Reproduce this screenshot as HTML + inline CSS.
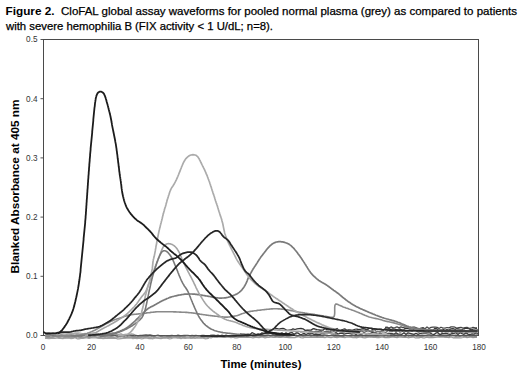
<!DOCTYPE html>
<html><head><meta charset="utf-8">
<style>
html,body{margin:0;padding:0;background:#fff;width:520px;height:375px;overflow:hidden}
svg{display:block}
text{font-family:"Liberation Sans",sans-serif}
</style></head><body>
<svg width="520" height="375" viewBox="0 0 520 375">
<text x="5.5" y="14.8" font-size="11" fill="#000" font-weight="bold" textLength="49" lengthAdjust="spacingAndGlyphs">Figure 2.</text>
<text x="61" y="14.8" font-size="11" fill="#000" stroke="#000" stroke-width="0.25" textLength="456" lengthAdjust="spacingAndGlyphs">CloFAL global assay waveforms for pooled normal plasma (grey) as compared to patients</text>
<text x="6" y="29.8" font-size="11" fill="#000" stroke="#000" stroke-width="0.25" textLength="267" lengthAdjust="spacingAndGlyphs">with severe hemophilia B (FIX activity &lt; 1 U/dL; n=8).</text>
<line x1="40.5" y1="335.50" x2="43.5" y2="335.50" stroke="#555" stroke-width="1"/>
<text x="37.5" y="338.40" font-size="8.2" fill="#333" text-anchor="end">0.0</text>
<line x1="40.5" y1="276.30" x2="43.5" y2="276.30" stroke="#555" stroke-width="1"/>
<text x="37.5" y="279.20" font-size="8.2" fill="#333" text-anchor="end">0.1</text>
<line x1="40.5" y1="217.10" x2="43.5" y2="217.10" stroke="#555" stroke-width="1"/>
<text x="37.5" y="220.00" font-size="8.2" fill="#333" text-anchor="end">0.2</text>
<line x1="40.5" y1="157.90" x2="43.5" y2="157.90" stroke="#555" stroke-width="1"/>
<text x="37.5" y="160.80" font-size="8.2" fill="#333" text-anchor="end">0.3</text>
<line x1="40.5" y1="98.70" x2="43.5" y2="98.70" stroke="#555" stroke-width="1"/>
<text x="37.5" y="101.60" font-size="8.2" fill="#333" text-anchor="end">0.4</text>
<line x1="40.5" y1="39.50" x2="43.5" y2="39.50" stroke="#555" stroke-width="1"/>
<text x="37.5" y="42.40" font-size="8.2" fill="#333" text-anchor="end">0.5</text>
<text x="43.00" y="349.6" font-size="8.2" fill="#333" text-anchor="middle">0</text>
<text x="91.44" y="349.6" font-size="8.2" fill="#333" text-anchor="middle">20</text>
<text x="139.89" y="349.6" font-size="8.2" fill="#333" text-anchor="middle">40</text>
<text x="188.33" y="349.6" font-size="8.2" fill="#333" text-anchor="middle">60</text>
<text x="236.78" y="349.6" font-size="8.2" fill="#333" text-anchor="middle">80</text>
<text x="285.22" y="349.6" font-size="8.2" fill="#333" text-anchor="middle">100</text>
<text x="333.67" y="349.6" font-size="8.2" fill="#333" text-anchor="middle">120</text>
<text x="382.11" y="349.6" font-size="8.2" fill="#333" text-anchor="middle">140</text>
<text x="430.56" y="349.6" font-size="8.2" fill="#333" text-anchor="middle">160</text>
<text x="479.00" y="349.6" font-size="8.2" fill="#333" text-anchor="middle">180</text>
<text x="261" y="367.7" font-size="11" fill="#000" font-weight="bold" text-anchor="middle" textLength="81" lengthAdjust="spacingAndGlyphs">Time (minutes)</text>
<text transform="translate(19.2,186.6) rotate(-90)" x="0" y="0" font-size="11.6" fill="#000" font-weight="bold" text-anchor="middle" textLength="174" lengthAdjust="spacingAndGlyphs">Blanked Absorbance at 405 nm</text>
<rect x="43.5" y="39.5" width="435" height="296" fill="none" stroke="#4a4a4a" stroke-width="1"/>
<path d="M45.0,338.3 L47.0,338.4 L49.0,338.7 L51.0,338.3 L53.0,338.3 L55.0,338.4 L57.0,338.0 L59.0,338.3 L61.0,338.4 L63.0,338.6 L65.0,337.9 L67.0,338.1 L69.0,337.9 L71.0,338.6 L73.0,338.5 L75.0,337.8 L77.0,338.8 L79.0,338.8 L81.0,338.5 L83.0,338.4 L85.0,338.0 L87.0,337.8 L89.0,338.3 L91.0,337.9 L93.0,338.0 L95.0,338.0 L97.0,337.8 L99.0,338.3 L101.0,338.2 L103.0,338.6 L105.0,338.3 L107.0,338.4 L109.0,338.3 L111.0,338.5 L113.0,338.3 L115.0,338.1 L117.0,338.8 L119.0,338.8 L121.0,338.6 L123.0,338.5 L125.0,338.1 L127.0,338.0 L129.0,338.1 L131.0,337.9 L133.0,338.6 L135.0,338.2 L137.0,338.6 L139.0,338.2 L141.0,338.8 L143.0,338.6 L145.0,337.8 L147.0,338.0 L149.0,338.7 L151.0,338.3 L153.0,338.8 L155.0,338.2 L157.0,337.9 L159.0,338.4 L161.0,338.6 L163.0,338.1 L165.0,337.9 L167.0,338.1 L169.0,338.8 L171.0,338.6 L173.0,337.9 L175.0,338.0 L177.0,337.9 L179.0,337.9 L181.0,338.6 L183.0,338.0 L185.0,338.4 L187.0,338.2 L189.0,338.0 L191.0,338.5 L193.0,337.9 L195.0,338.4 L197.0,337.9 L199.0,338.2 L201.0,338.0 L203.0,338.1 L205.0,338.8 L207.0,338.6 L209.0,338.1" fill="none" stroke="#a0a0a0" stroke-width="1.2" stroke-linejoin="round"/>
<path d="M45.0,337.1 L47.0,337.4 L49.0,337.3 L51.0,337.5 L53.0,337.5 L55.0,337.0 L57.0,336.9 L59.0,337.7 L61.0,337.2 L63.0,337.1 L65.0,337.9 L67.0,337.4 L69.0,337.7 L71.0,337.4 L73.0,337.5 L75.0,337.1 L77.0,337.5 L79.0,337.8 L81.0,337.4 L83.0,337.6 L85.0,337.6 L87.0,337.0 L89.0,337.7 L91.0,337.5 L93.0,337.2 L95.0,336.9 L97.0,337.8 L99.0,337.4 L101.0,337.6 L103.0,337.8 L105.0,337.6 L107.0,337.8 L109.0,337.3 L111.0,337.7 L113.0,337.3 L115.0,337.8 L117.0,337.8 L119.0,337.0 L121.0,337.0 L123.0,337.1 L125.0,337.9 L127.0,337.3 L129.0,337.5 L131.0,337.2 L133.0,337.4 L135.0,337.3 L137.0,337.3 L139.0,337.5 L141.0,337.5 L143.0,337.8 L145.0,337.6 L147.0,337.8 L149.0,337.8 L151.0,337.9 L153.0,337.6 L155.0,337.1 L157.0,337.8 L159.0,337.9 L161.0,337.8 L163.0,337.5 L165.0,337.6 L167.0,337.1 L169.0,337.7 L171.0,337.5 L173.0,337.2 L175.0,337.0 L177.0,337.8 L179.0,337.9 L181.0,337.0 L183.0,337.7 L185.0,337.3 L187.0,337.1 L189.0,337.2 L191.0,337.7 L193.0,337.8 L195.0,336.9 L197.0,337.5 L199.0,336.9 L201.0,337.6 L203.0,337.2 L205.0,337.8 L207.0,337.9 L209.0,337.4 L211.0,337.9 L213.0,337.2 L215.0,337.0 L217.0,337.5 L219.0,336.9 L221.0,337.1 L223.0,337.3 L225.0,337.5 L227.0,337.1 L229.0,336.9 L231.0,337.8 L233.0,337.2 L235.0,337.9 L237.0,337.8 L239.0,337.3 L241.0,337.4 L243.0,337.4 L245.0,337.5 L247.0,337.5 L249.0,337.5 L251.0,337.5 L253.0,337.8 L255.0,337.4 L257.0,337.3 L259.0,337.6 L261.0,337.1 L263.0,337.2 L265.0,337.9 L267.0,337.4 L269.0,337.4 L271.0,336.9 L273.0,337.3 L275.0,337.5 L277.0,336.9 L279.0,337.5 L281.0,337.5 L283.0,337.0 L285.0,337.5 L287.0,337.4 L289.0,337.6 L291.0,337.3 L293.0,337.6 L295.0,337.6 L297.0,336.9 L299.0,337.0 L301.0,337.6 L303.0,337.9 L305.0,337.2 L307.0,337.4 L309.0,337.5 L311.0,337.2 L313.0,337.3 L315.0,337.2 L317.0,337.3 L319.0,337.5 L321.0,337.2 L323.0,337.3 L325.0,337.7 L327.0,336.9 L329.0,337.5 L331.0,337.6 L333.0,337.2 L335.0,337.1 L337.0,337.7 L339.0,337.1 L341.0,337.1 L343.0,337.3 L345.0,337.6 L347.0,337.0 L349.0,337.2 L351.0,337.2 L353.0,337.7 L355.0,337.3 L357.0,337.8 L359.0,337.1 L361.0,337.2 L363.0,337.6 L365.0,337.8 L367.0,337.4 L369.0,337.1 L371.0,337.0 L373.0,337.4 L375.0,337.1 L377.0,337.7 L379.0,337.7 L381.0,337.1 L383.0,337.2 L385.0,337.7 L387.0,337.5 L389.0,337.7 L391.0,337.2 L393.0,337.0 L395.0,337.2 L397.0,337.7 L399.0,337.2 L401.0,337.2 L403.0,337.3 L405.0,337.3 L407.0,337.3 L409.0,337.8 L411.0,337.1 L413.0,336.9 L415.0,337.8 L417.0,337.8 L419.0,337.9 L421.0,337.3 L423.0,337.9 L425.0,337.8 L427.0,337.1 L429.0,337.6 L431.0,337.7 L433.0,337.6 L435.0,337.4 L437.0,337.2 L439.0,337.2 L441.0,337.1 L443.0,337.0 L445.0,337.5 L447.0,337.2 L449.0,337.7 L451.0,336.9 L453.0,337.8 L455.0,337.6 L457.0,337.8 L459.0,337.8 L461.0,337.8 L463.0,337.5 L465.0,336.9 L467.0,337.6 L469.0,337.1 L471.0,337.2 L473.0,337.6 L475.0,337.4 L477.0,337.3" fill="none" stroke="#9a9a9a" stroke-width="1.2" stroke-linejoin="round"/>
<path d="M45.0,335.9 L47.0,336.7 L49.0,336.6 L51.0,336.0 L53.0,336.3 L55.0,336.2 L57.0,336.5 L59.0,336.6 L61.0,335.8 L63.0,335.7 L65.0,336.7 L67.0,336.2 L69.0,336.6 L71.0,335.7 L73.0,336.2 L75.0,336.6 L77.0,336.0 L79.0,336.8 L81.0,336.8 L83.0,335.7 L85.0,335.7 L87.0,336.3 L89.0,336.8 L91.0,336.2 L93.0,336.0 L95.0,336.2 L97.0,335.7 L99.0,336.0 L101.0,336.2 L103.0,336.3 L105.0,336.0 L107.0,336.0 L109.0,336.0 L111.0,336.3 L113.0,336.0 L115.0,335.7 L117.0,336.7 L119.0,336.4 L121.0,336.5 L123.0,335.9 L125.0,336.9 L127.0,336.7 L129.0,335.8 L131.0,336.1 L133.0,336.6 L135.0,336.6 L137.0,336.8 L139.0,336.2 L141.0,336.7 L143.0,336.5 L145.0,336.1 L147.0,336.4 L149.0,336.8 L151.0,336.7 L153.0,336.3 L155.0,336.4 L157.0,335.7 L159.0,336.0 L161.0,336.7 L163.0,336.2 L165.0,335.9 L167.0,336.4 L169.0,336.5 L171.0,336.5 L173.0,336.1 L175.0,336.2 L177.0,336.3 L179.0,336.6 L181.0,336.3 L183.0,336.2 L185.0,336.3 L187.0,335.7 L189.0,335.8 L191.0,336.5 L193.0,336.9 L195.0,336.4 L197.0,336.2 L199.0,335.9 L201.0,336.3 L203.0,336.9 L205.0,336.6 L207.0,336.3 L209.0,336.7 L211.0,336.0 L213.0,336.3 L215.0,336.8 L217.0,336.4 L219.0,336.3 L221.0,336.0 L223.0,336.4 L225.0,336.8 L227.0,335.7 L229.0,336.6 L231.0,336.7 L233.0,336.8 L235.0,336.6 L237.0,336.7 L239.0,336.3 L241.0,336.4 L243.0,336.2 L245.0,335.8 L247.0,336.7 L249.0,336.4 L251.0,335.9 L253.0,336.3 L255.0,336.3 L257.0,336.1 L259.0,336.1 L261.0,336.3 L263.0,336.4 L265.0,336.4 L267.0,336.2 L269.0,335.7 L271.0,336.0 L273.0,335.9 L275.0,336.4 L277.0,336.7 L279.0,336.7 L281.0,336.7 L283.0,336.7 L285.0,336.0 L287.0,336.7 L289.0,336.5 L291.0,335.8 L293.0,335.7 L295.0,335.7 L297.0,336.6 L299.0,336.0 L301.0,335.8 L303.0,336.4 L305.0,336.1 L307.0,335.8 L309.0,335.9 L311.0,336.3 L313.0,335.9 L315.0,336.0 L317.0,336.6 L319.0,336.2 L321.0,336.1 L323.0,336.3 L325.0,335.7 L327.0,336.2 L329.0,336.2 L331.0,335.9 L333.0,335.8 L335.0,336.8 L337.0,336.3 L339.0,336.0 L341.0,336.4 L343.0,336.7 L345.0,335.7 L347.0,335.7 L349.0,335.9 L351.0,336.6 L353.0,335.9 L355.0,336.5 L357.0,336.5 L359.0,336.4 L361.0,336.0 L363.0,336.9 L365.0,336.7 L367.0,336.3 L369.0,336.0 L371.0,336.5 L373.0,336.2 L375.0,336.4 L377.0,336.1 L379.0,336.5 L381.0,335.8 L383.0,336.1 L385.0,336.9 L387.0,336.8 L389.0,336.1 L391.0,336.7 L393.0,336.1 L395.0,336.8 L397.0,336.6 L399.0,336.2 L401.0,336.0 L403.0,335.7 L405.0,336.8 L407.0,335.7 L409.0,336.7 L411.0,336.9 L413.0,336.4 L415.0,335.9 L417.0,336.7 L419.0,336.9 L421.0,336.5 L423.0,336.3 L425.0,336.2 L427.0,336.1 L429.0,335.9 L431.0,336.5 L433.0,336.2 L435.0,335.9 L437.0,335.8 L439.0,336.5 L441.0,336.1 L443.0,336.3 L445.0,336.1 L447.0,336.7 L449.0,336.8 L451.0,335.7 L453.0,335.9 L455.0,336.1 L457.0,336.9 L459.0,336.6 L461.0,336.1 L463.0,336.0 L465.0,336.5 L467.0,336.7 L469.0,336.8 L471.0,336.1 L473.0,336.8 L475.0,336.5 L477.0,336.3" fill="none" stroke="#888" stroke-width="1.3" stroke-linejoin="round"/>
<path d="M88.0,335.8 L90.0,335.7 L92.0,334.9 L94.0,334.9 L96.0,335.6 L98.0,335.5 L100.0,335.5 L102.0,335.1 L104.0,335.4 L106.0,335.4 L108.0,335.4 L110.0,335.0 L112.0,335.2 L114.0,335.2 L116.0,335.5 L118.0,335.8 L120.0,335.7 L122.0,335.3 L124.0,335.2 L126.0,335.1 L128.0,334.8 L130.0,334.8 L132.0,335.3 L134.0,335.1 L136.0,335.2 L138.0,335.7 L140.0,335.3 L142.0,335.4 L144.0,335.0 L146.0,334.8 L148.0,335.1 L150.0,334.9 L152.0,335.3 L154.0,335.8 L156.0,335.5 L158.0,335.0 L160.0,335.7 L162.0,335.6 L164.0,335.5 L166.0,335.7 L168.0,335.6 L170.0,335.6 L172.0,335.2 L174.0,335.8 L176.0,335.8 L178.0,335.0 L180.0,335.6 L182.0,335.5 L184.0,335.3 L186.0,335.3 L188.0,335.3 L190.0,335.7 L192.0,335.3 L194.0,335.6 L196.0,335.2 L198.0,335.7 L200.0,335.7 L202.0,335.3 L204.0,335.4 L206.0,335.7 L208.0,335.5 L210.0,335.3 L212.0,335.0 L214.0,335.1 L216.0,335.5 L218.0,335.0 L220.0,335.7 L222.0,335.1 L224.0,335.7 L226.0,335.1 L228.0,335.8 L230.0,335.5 L232.0,335.3 L234.0,335.3 L236.0,335.5 L238.0,335.4 L240.0,335.1 L242.0,335.0 L244.0,335.3 L246.0,335.7 L248.0,335.4 L250.0,334.9 L252.0,335.6 L254.0,335.5 L256.0,335.7 L258.0,335.0 L260.0,335.5 L262.0,334.9 L264.0,335.5 L266.0,335.1 L268.0,335.0 L270.0,335.7 L272.0,334.9 L274.0,335.3 L276.0,335.7 L278.0,335.0 L280.0,335.0 L282.0,335.7 L284.0,335.2 L286.0,335.5 L288.0,334.8 L290.0,335.2 L292.0,335.0 L294.0,335.5 L296.0,334.9 L298.0,335.8 L300.0,334.8 L302.0,335.5 L304.0,334.8 L306.0,335.1 L308.0,335.6 L310.0,335.0 L312.0,335.0 L314.0,335.5 L316.0,335.2 L318.0,334.8 L320.0,335.8 L322.0,335.0 L324.0,334.8 L326.0,335.1 L328.0,335.4 L330.0,335.5 L332.0,334.9 L334.0,335.1 L336.0,334.8 L338.0,335.2 L340.0,335.6 L342.0,335.5 L344.0,335.7 L346.0,335.6 L348.0,335.7 L350.0,335.5 L352.0,335.3 L354.0,335.0 L356.0,335.5 L358.0,335.1 L360.0,334.9 L362.0,335.2 L364.0,335.7 L366.0,334.9 L368.0,335.4 L370.0,335.2 L372.0,335.3 L374.0,334.9 L376.0,335.8 L378.0,335.1 L380.0,335.4 L382.0,335.2 L384.0,334.8 L386.0,335.4 L388.0,334.9 L390.0,334.9 L392.0,334.8 L394.0,335.0 L396.0,334.9 L398.0,335.4 L400.0,335.3 L402.0,335.8 L404.0,335.7 L406.0,335.8 L408.0,335.0 L410.0,335.2 L412.0,335.1 L414.0,335.4 L416.0,335.4 L418.0,335.6 L420.0,335.5 L422.0,335.1 L424.0,335.2 L426.0,335.3 L428.0,334.8 L430.0,334.8 L432.0,335.2 L434.0,334.9 L436.0,335.5 L438.0,335.0 L440.0,334.9 L442.0,335.0 L444.0,335.0 L446.0,335.0 L448.0,335.3 L450.0,335.3 L452.0,335.1 L454.0,335.4 L456.0,335.0 L458.0,335.7 L460.0,335.8 L462.0,335.5 L464.0,335.2 L466.0,335.3 L468.0,335.4 L470.0,334.9 L472.0,335.2 L474.0,335.3 L476.0,335.0 L478.0,334.9" fill="none" stroke="#555" stroke-width="1.1" stroke-linejoin="round"/>
<path d="M45.0,335.4 L47.0,335.6 L49.0,335.6 L51.0,335.0 L53.0,334.8 L55.0,335.2 L57.0,335.1 L59.0,335.8 L61.0,335.6 L63.0,335.5 L65.0,335.5 L67.0,335.6 L69.0,335.0 L71.0,335.3 L73.0,335.0 L75.0,335.9 L77.0,334.9 L79.0,335.8 L81.0,334.9 L83.0,335.6 L85.0,335.2 L87.0,335.3 L89.0,335.8 L91.0,334.8" fill="none" stroke="#8c8c8c" stroke-width="1.2" stroke-linejoin="round"/>
<path d="M45.0,333.9 L47.0,334.9 L49.0,333.8 L51.0,334.6 L53.0,333.7 L55.0,333.9 L57.0,335.0 L59.0,333.9 L61.0,334.5 L63.0,334.2 L65.0,334.2 L67.0,334.3 L69.0,333.9 L71.0,334.8 L73.0,333.7 L75.0,333.9 L77.0,333.6 L79.0,334.0 L81.0,334.2 L83.0,334.9 L85.0,334.1 L87.0,333.8 L89.0,334.0 L91.0,335.0 L93.0,333.7 L95.0,334.5 L97.0,334.1 L99.0,334.5 L101.0,334.1 L103.0,334.6 L105.0,334.3 L107.0,334.5 L109.0,334.9 L111.0,334.4 L113.0,333.8 L115.0,333.7 L117.0,334.9 L119.0,334.3 L121.0,333.9 L123.0,334.9 L125.0,334.4 L127.0,334.6 L129.0,334.8 L131.0,334.0 L133.0,334.1 L135.0,334.8" fill="none" stroke="#999" stroke-width="1.3" stroke-linejoin="round"/>
<path d="M45.0,333.2 L47.0,333.0 L49.0,332.8 L51.0,333.6 L53.0,332.6 L55.0,333.2 L57.0,333.7 L59.0,332.7 L61.0,333.3 L63.0,333.3 L65.0,332.6 L67.0,333.1 L69.0,333.4 L71.0,333.1 L73.0,333.5 L75.0,332.8 L77.0,332.9 L79.0,332.7 L81.0,333.2 L83.0,333.7 L85.0,333.3 L87.0,333.5 L89.0,333.1 L91.0,333.5 L93.0,332.7 L95.0,332.9 L97.0,333.4 L99.0,333.5" fill="none" stroke="#aaa" stroke-width="1.1" stroke-linejoin="round"/>
<path d="M240.0,333.8 L242.0,334.1 L244.0,334.2 L246.0,334.5 L248.0,334.1 L250.0,334.4 L252.0,332.7 L254.0,333.5 L256.0,334.5 L258.0,333.9 L260.0,334.4 L262.0,332.8 L264.0,333.5 L266.0,333.1 L268.0,333.7 L270.0,333.7 L272.0,332.6 L274.0,333.0 L276.0,333.2 L278.0,334.4 L280.0,334.1 L282.0,332.9 L284.0,334.2 L286.0,332.9 L288.0,333.8 L290.0,332.9 L292.0,332.6 L294.0,334.3 L296.0,333.0 L298.0,333.0 L300.0,334.6 L302.0,334.3 L304.0,333.2 L306.0,334.5 L308.0,333.7 L310.0,334.0 L312.0,333.0 L314.0,334.5 L316.0,334.0 L318.0,334.5 L320.0,334.4 L322.0,333.2 L324.0,333.3 L326.0,332.9 L328.0,332.9 L330.0,332.7 L332.0,333.2 L334.0,333.8 L336.0,332.6 L338.0,334.0 L340.0,333.3 L342.0,333.2 L344.0,334.2 L346.0,333.6 L348.0,333.2 L350.0,333.6 L352.0,334.0 L354.0,332.7 L356.0,334.6 L358.0,332.6 L360.0,334.1 L362.0,334.3 L364.0,332.6 L366.0,334.2 L368.0,333.3 L370.0,333.8 L372.0,332.6 L374.0,332.7 L376.0,333.0 L378.0,334.5 L380.0,333.0 L382.0,334.1 L384.0,334.5 L386.0,334.5 L388.0,333.3 L390.0,333.3 L392.0,333.6 L394.0,334.2 L396.0,332.8 L398.0,334.1 L400.0,334.2 L402.0,334.3 L404.0,332.7 L406.0,334.5 L408.0,332.8 L410.0,333.3 L412.0,333.8 L414.0,334.4 L416.0,333.3 L418.0,334.4 L420.0,333.7 L422.0,333.2 L424.0,333.2 L426.0,333.0 L428.0,332.8 L430.0,332.9 L432.0,334.0 L434.0,334.6 L436.0,332.9 L438.0,332.7 L440.0,334.6 L442.0,333.7 L444.0,333.4 L446.0,333.1 L448.0,333.8 L450.0,334.3 L452.0,333.5 L454.0,333.4 L456.0,332.7 L458.0,334.4 L460.0,332.7 L462.0,333.6 L464.0,334.3 L466.0,332.9 L468.0,334.1 L470.0,334.5 L472.0,333.9 L474.0,334.2 L476.0,332.8 L478.0,333.5" fill="none" stroke="#3a3a3a" stroke-width="1.3" stroke-linejoin="round"/>
<path d="M300.0,332.0 L302.0,332.0 L304.0,331.4 L306.0,330.9 L308.0,330.4 L310.0,331.7 L312.0,331.3 L314.0,331.9 L316.0,331.1 L318.0,331.9 L320.0,330.9 L322.0,332.0 L324.0,331.9 L326.0,331.2 L328.0,331.5 L330.0,331.8 L332.0,330.8 L334.0,331.5 L336.0,332.0 L338.0,330.9 L340.0,332.0 L342.0,331.8 L344.0,332.1 L346.0,331.1 L348.0,330.6 L350.0,332.0 L352.0,332.0 L354.0,331.3 L356.0,330.6 L358.0,330.8 L360.0,331.7 L362.0,331.0 L364.0,332.3 L366.0,331.6 L368.0,330.8 L370.0,331.7 L372.0,331.1 L374.0,332.3 L376.0,332.2 L378.0,331.4 L380.0,331.7 L382.0,331.8 L384.0,332.0 L386.0,332.4 L388.0,330.5 L390.0,331.1 L392.0,331.6 L394.0,331.0 L396.0,331.6 L398.0,330.6 L400.0,332.2 L402.0,331.5 L404.0,330.6 L406.0,331.7 L408.0,331.0 L410.0,330.8 L412.0,331.4 L414.0,330.7 L416.0,330.8 L418.0,332.1 L420.0,331.8 L422.0,330.4 L424.0,332.0 L426.0,330.4 L428.0,331.1 L430.0,332.2 L432.0,331.6 L434.0,331.0 L436.0,331.2 L438.0,331.2 L440.0,330.7 L442.0,332.4 L444.0,330.5 L446.0,331.2 L448.0,331.9 L450.0,331.2 L452.0,332.4 L454.0,330.9 L456.0,332.4 L458.0,332.2 L460.0,331.7 L462.0,332.2 L464.0,331.3 L466.0,332.1 L468.0,332.0 L470.0,331.4 L472.0,331.3 L474.0,331.8 L476.0,331.2 L478.0,330.6" fill="none" stroke="#666" stroke-width="1.2" stroke-linejoin="round"/>
<path d="M275.0,328.8 L277.0,328.5 L279.0,329.2 L281.0,328.6 L283.0,328.4 L285.0,329.2 L287.0,330.3 L289.0,330.1 L291.0,330.0 L293.0,328.8 L295.0,329.5 L297.0,328.9 L299.0,328.7 L301.0,328.5 L303.0,328.8 L305.0,330.3 L307.0,330.1 L309.0,330.1 L311.0,330.1 L313.0,328.7 L315.0,329.0 L317.0,329.7 L319.0,329.9 L321.0,330.2 L323.0,330.2 L325.0,328.5 L327.0,329.6 L329.0,329.8 L331.0,329.4 L333.0,328.7 L335.0,329.3 L337.0,328.5 L339.0,330.4 L341.0,330.2 L343.0,329.5 L345.0,329.0 L347.0,330.3 L349.0,329.6 L351.0,330.2 L353.0,330.2 L355.0,329.4 L357.0,329.2 L359.0,329.6 L361.0,329.2 L363.0,328.7 L365.0,329.0 L367.0,330.1 L369.0,328.4 L371.0,328.4 L373.0,329.7 L375.0,328.9 L377.0,329.5 L379.0,329.3 L381.0,329.1 L383.0,330.5 L385.0,328.7 L387.0,329.2 L389.0,328.7 L391.0,329.7 L393.0,328.9 L395.0,329.1 L397.0,329.9 L399.0,329.0 L401.0,329.5 L403.0,330.3 L405.0,328.5 L407.0,328.4 L409.0,328.8 L411.0,330.0 L413.0,329.7 L415.0,328.8 L417.0,329.0 L419.0,328.7 L421.0,329.3 L423.0,328.4 L425.0,329.8 L427.0,330.3 L429.0,330.4 L431.0,329.9 L433.0,330.4 L435.0,328.3 L437.0,328.9 L439.0,330.4 L441.0,330.0 L443.0,329.2 L445.0,330.4 L447.0,329.7 L449.0,330.1 L451.0,328.9 L453.0,328.7 L455.0,329.3 L457.0,328.6 L459.0,329.1 L461.0,330.4 L463.0,329.0 L465.0,328.3 L467.0,328.4 L469.0,328.7 L471.0,330.0 L473.0,329.1 L475.0,328.9 L477.0,328.5" fill="none" stroke="#333" stroke-width="1.3" stroke-linejoin="round"/>
<path d="M385.0,327.4 L387.0,327.1 L389.0,328.1 L391.0,326.9 L393.0,327.9 L395.0,327.5 L397.0,326.9 L399.0,327.8 L401.0,326.9 L403.0,327.7 L405.0,326.9 L407.0,327.0 L409.0,327.6 L411.0,328.5 L413.0,327.0 L415.0,327.2 L417.0,328.1 L419.0,328.7 L421.0,328.0 L423.0,327.6 L425.0,328.8 L427.0,326.9 L429.0,328.5 L431.0,327.4 L433.0,327.1 L435.0,327.0 L437.0,327.4 L439.0,328.4 L441.0,327.2 L443.0,328.0 L445.0,328.1 L447.0,327.5 L449.0,327.9 L451.0,326.9 L453.0,326.9 L455.0,327.2 L457.0,328.2 L459.0,327.7 L461.0,327.4 L463.0,328.0 L465.0,327.7 L467.0,327.4 L469.0,328.4 L471.0,328.2 L473.0,327.3 L475.0,327.9 L477.0,327.9" fill="none" stroke="#444" stroke-width="1.2" stroke-linejoin="round"/>
<path d="M330.0,330.7 L332.0,330.3 L334.0,330.7 L336.0,329.8 L338.0,331.3 L340.0,331.3 L342.0,330.9 L344.0,329.7 L346.0,330.5 L348.0,330.1 L350.0,329.9 L352.0,331.6 L354.0,331.7 L356.0,329.4 L358.0,331.4 L360.0,330.7 L362.0,330.2 L364.0,330.0 L366.0,330.9 L368.0,330.4 L370.0,330.9 L372.0,330.9 L374.0,329.6 L376.0,331.1 L378.0,331.7 L380.0,331.6 L382.0,330.8 L384.0,329.4 L386.0,329.3 L388.0,329.6 L390.0,331.6 L392.0,330.0 L394.0,330.2 L396.0,331.5 L398.0,330.1 L400.0,330.6 L402.0,330.3 L404.0,329.5 L406.0,330.7 L408.0,331.3 L410.0,329.7 L412.0,329.8 L414.0,330.3 L416.0,329.4 L418.0,330.5 L420.0,331.3 L422.0,330.9 L424.0,330.6 L426.0,331.4 L428.0,329.7 L430.0,330.7 L432.0,330.2 L434.0,330.7 L436.0,329.6 L438.0,331.2 L440.0,329.5 L442.0,329.7 L444.0,331.2 L446.0,331.6 L448.0,330.3 L450.0,330.3 L452.0,329.9 L454.0,330.0 L456.0,330.8 L458.0,329.7 L460.0,329.6 L462.0,330.4 L464.0,329.7 L466.0,330.9 L468.0,331.3 L470.0,331.2 L472.0,330.5 L474.0,330.1 L476.0,330.3 L478.0,329.3" fill="none" stroke="#777" stroke-width="1.2" stroke-linejoin="round"/>
<path d="M61.0,336.0 L61.6,336.0 L62.3,335.9 L63.1,335.9 L64.1,335.9 L65.0,335.9 L66.0,335.9 L67.0,335.8 L68.0,335.8 L69.0,335.8 L70.0,335.7 L71.0,335.7 L72.0,335.6 L73.0,335.6 L74.0,335.5 L75.0,335.5 L76.0,335.4 L77.0,335.3 L78.0,335.2 L79.0,335.0 L80.0,334.9 L81.0,334.7 L82.0,334.6 L83.0,334.4 L84.0,334.2 L84.9,333.9 L85.9,333.7 L86.9,333.4 L87.8,333.1 L88.8,332.8 L89.7,332.4 L90.6,332.0 L91.5,331.7 L92.5,331.3 L93.4,330.8 L94.3,330.4 L95.2,330.0 L96.1,329.5 L97.0,329.1 L97.8,328.6 L98.7,328.1 L99.6,327.6 L100.5,327.1 L101.3,326.6 L102.2,326.1 L103.1,325.6 L103.9,325.1 L104.8,324.6 L105.7,324.1 L106.6,323.6 L107.4,323.2 L108.3,322.7 L109.2,322.2 L110.1,321.8 L111.0,321.3 L111.9,320.9 L112.8,320.5 L113.8,320.1 L114.7,319.7 L115.6,319.4 L116.6,319.1 L117.5,318.8 L118.5,318.5 L119.4,318.2 L120.4,317.9 L121.4,317.6 L122.3,317.3 L123.3,317.0 L124.2,316.6 L125.1,316.3 L126.1,316.0 L127.0,315.6 L128.0,315.4 L128.9,315.1 L129.9,314.9 L130.9,314.7 L131.9,314.6 L132.9,314.5 L133.9,314.4 L134.8,314.3 L135.8,314.2 L136.8,314.1 L137.8,314.0 L138.8,313.9 L139.8,313.8 L140.8,313.7 L141.8,313.6 L142.8,313.4 L143.8,313.3 L144.8,313.2 L145.8,313.1 L146.8,312.9 L147.8,312.8 L148.8,312.7 L149.8,312.6 L150.8,312.4 L151.8,312.3 L152.8,312.2 L153.8,312.1 L154.8,312.0 L155.8,311.9 L156.8,311.8 L157.8,311.8 L158.8,311.7 L159.8,311.7 L160.8,311.7 L161.8,311.7 L162.8,311.7 L163.8,311.7 L164.8,311.7 L165.8,311.7 L166.8,311.7 L167.8,311.7 L168.8,311.7 L169.8,311.8 L170.8,311.8 L171.8,311.8 L172.8,311.8 L173.8,311.9 L174.8,311.9 L175.8,311.9 L176.8,312.0 L177.8,312.0 L178.8,312.0 L179.8,312.1 L180.8,312.1 L181.8,312.2 L182.8,312.2 L183.8,312.3 L184.8,312.3 L185.8,312.4 L186.8,312.4 L187.8,312.5 L188.8,312.6 L189.8,312.7 L190.8,312.8 L191.8,312.9 L192.8,313.0 L193.8,313.1 L194.8,313.3 L195.8,313.4 L196.8,313.6 L197.8,313.7 L198.8,313.9 L199.8,314.1 L200.8,314.2 L201.7,314.4 L202.7,314.5 L203.7,314.7 L204.7,314.8 L205.7,315.0 L206.7,315.1 L207.7,315.2 L208.7,315.4 L209.7,315.5 L210.7,315.6 L211.7,315.8 L212.7,315.9 L213.7,316.0 L214.7,316.1 L215.7,316.2 L216.7,316.3 L217.7,316.4 L218.7,316.6 L219.7,316.7 L220.6,316.7 L221.6,316.8 L222.6,316.9 L223.6,317.0 L224.6,317.1 L225.6,317.1 L226.6,317.1 L227.6,317.1 L228.6,317.0 L229.6,316.9 L230.5,316.7 L231.5,316.6 L232.4,316.4 L233.4,316.3 L234.3,316.1 L235.3,316.0 L236.2,315.8 L237.2,315.6 L238.1,315.3 L239.0,314.9 L239.9,314.6 L240.8,314.2 L241.7,313.8 L242.7,313.5 L243.6,313.2 L244.6,312.9 L245.5,312.6 L246.5,312.3 L247.5,312.0 L248.4,311.8 L249.4,311.6 L250.4,311.4 L251.4,311.3 L252.4,311.1 L253.4,311.0 L254.4,310.8 L255.4,310.7 L256.4,310.6 L257.4,310.4 L258.4,310.3 L259.3,310.2 L260.3,310.1 L261.3,310.0 L262.3,309.8 L263.3,309.7 L264.3,309.6 L265.3,309.5 L266.3,309.4 L267.3,309.3 L268.3,309.2 L269.3,309.1 L270.3,309.0 L271.3,308.9 L272.3,308.9 L273.3,308.8 L274.3,308.8 L275.3,308.8 L276.3,308.8 L277.3,308.8 L278.3,308.9 L279.3,308.9 L280.3,309.0 L281.3,309.1 L282.3,309.1 L283.3,309.3 L284.3,309.4 L285.3,309.5 L286.3,309.7 L287.3,309.8 L288.3,310.0 L289.3,310.2 L290.2,310.4 L291.2,310.6 L292.2,310.8 L293.2,311.0 L294.2,311.2 L295.1,311.4 L296.1,311.6 L297.1,311.8 L298.1,312.0 L299.1,312.2 L300.1,312.3 L301.1,312.5 L302.1,312.6 L303.1,312.8 L304.0,312.9 L305.0,313.1 L306.0,313.2 L307.0,313.4 L308.0,313.5 L309.0,313.7 L310.0,313.8 L311.0,314.0 L312.0,314.1 L313.0,314.3 L314.0,314.4 L315.0,314.6 L315.9,314.7 L316.9,314.9 L317.9,315.0 L318.9,315.2 L319.9,315.4 L320.9,315.5 L321.9,315.7 L322.9,315.9 L323.9,316.1 L324.8,316.2 L325.8,316.4 L326.8,316.6 L327.8,316.8 L328.8,316.9 L329.8,317.1 L330.7,317.3 L331.6,317.4 L332.4,317.4 L333.1,317.3 L333.6,317.1 L334.0,316.6 L334.3,315.9 L334.5,315.1 L334.6,314.2 L334.7,313.2 L334.7,312.3 L334.7,311.3 L334.7,310.3 L334.7,309.3 L334.7,308.3 L334.7,307.3 L334.8,306.4 L334.9,305.5 L335.2,304.8 L335.5,304.3 L335.9,304.0 L336.5,304.0 L337.2,304.2 L337.9,304.5 L338.7,304.9 L339.6,305.3 L340.5,305.7 L341.4,306.1 L342.3,306.5 L343.2,306.9 L344.2,307.3 L345.1,307.6 L346.0,308.0 L347.0,308.3 L347.9,308.6 L348.9,309.0 L349.8,309.3 L350.8,309.6 L351.7,309.9 L352.7,310.3 L353.6,310.6 L354.6,311.0 L355.5,311.3 L356.4,311.7 L357.4,312.1 L358.3,312.4 L359.2,312.8 L360.1,313.2 L361.1,313.6 L362.0,314.0 L362.9,314.4 L363.8,314.8 L364.7,315.2 L365.7,315.6 L366.6,316.0 L367.5,316.3 L368.5,316.7 L369.4,317.0 L370.4,317.3 L371.3,317.5 L372.3,317.8 L373.3,318.0 L374.3,318.2 L375.2,318.4 L376.2,318.6 L377.2,318.8 L378.2,319.0 L379.2,319.3 L380.1,319.5 L381.1,319.8 L382.0,320.1 L383.0,320.4 L384.0,320.7 L384.9,320.9 L385.9,321.2 L386.9,321.4 L387.9,321.6 L388.8,321.8 L389.8,322.0 L390.8,322.2 L391.8,322.4 L392.8,322.6 L393.7,322.9 L394.7,323.1 L395.7,323.4 L396.7,323.6 L397.6,323.9 L398.6,324.2 L399.5,324.5 L400.5,324.8 L401.4,325.1 L402.4,325.4 L403.3,325.8 L404.3,326.1 L405.2,326.5 L406.2,326.8 L407.1,327.1 L408.1,327.3 L409.0,327.6 L410.0,327.8 L411.0,328.0 L412.0,328.2 L413.0,328.4 L414.0,328.5 L415.0,328.7 L415.9,328.9 L416.9,329.0 L417.9,329.2 L418.9,329.3 L419.9,329.4 L420.9,329.6 L421.9,329.7 L422.9,329.8 L423.9,329.9 L424.9,330.0 L425.9,330.1 L426.9,330.2 L427.9,330.3 L428.9,330.4 L429.9,330.5 L430.9,330.6 L431.9,330.6 L432.9,330.7 L433.9,330.8 L434.9,330.8 L435.9,330.9 L436.9,330.9 L437.9,331.0 L438.9,331.0 L439.9,331.1 L440.9,331.1 L441.9,331.2 L442.9,331.2 L443.9,331.3 L444.9,331.3 L445.9,331.4 L446.9,331.4 L447.9,331.4 L448.9,331.5 L449.9,331.5 L450.9,331.5 L451.9,331.5 L452.9,331.6 L453.9,331.6 L454.9,331.6 L455.9,331.6 L456.9,331.7 L457.9,331.7 L458.9,331.7 L459.9,331.7 L461.0,331.7 L462.0,331.8 L463.0,331.8 L464.0,331.8 L465.0,331.8 L466.0,331.8 L467.0,331.8 L468.0,331.9 L469.0,331.9 L470.0,331.9 L471.0,331.9 L472.0,331.9 L473.0,331.9 L473.9,331.9 L474.9,332.0 L475.7,332.0 L476.4,332.0 L477.0,332.0" fill="none" stroke="#8a8a8a" stroke-width="1.6" stroke-linejoin="round" stroke-linecap="round"/>
<path d="M71.0,336.0 L71.6,336.0 L72.3,336.0 L73.1,335.9 L74.1,335.9 L75.0,335.9 L76.0,335.9 L77.0,335.9 L78.0,335.8 L79.0,335.8 L80.0,335.8 L81.0,335.8 L82.0,335.7 L83.1,335.7 L84.1,335.7 L85.1,335.7 L86.1,335.6 L87.1,335.6 L88.1,335.6 L89.1,335.5 L90.1,335.5 L91.1,335.4 L92.1,335.4 L93.1,335.4 L94.1,335.3 L95.1,335.3 L96.1,335.2 L97.1,335.2 L98.1,335.1 L99.1,335.0 L100.1,335.0 L101.1,334.9 L102.1,334.8 L103.1,334.7 L104.1,334.6 L105.1,334.5 L106.1,334.3 L107.1,334.2 L108.1,334.1 L109.1,333.9 L110.1,333.8 L111.1,333.6 L112.0,333.4 L113.0,333.2 L114.0,333.0 L115.0,332.8 L116.0,332.5 L116.9,332.2 L117.9,331.9 L118.8,331.6 L119.8,331.3 L120.7,330.9 L121.6,330.5 L122.5,330.1 L123.4,329.6 L124.3,329.2 L125.2,328.7 L126.0,328.2 L126.9,327.6 L127.7,327.1 L128.5,326.5 L129.4,325.9 L130.1,325.3 L130.9,324.7 L131.7,324.0 L132.4,323.3 L133.2,322.7 L133.9,322.0 L134.6,321.3 L135.4,320.6 L136.1,319.9 L136.8,319.2 L137.6,318.5 L138.3,317.8 L139.0,317.1 L139.7,316.4 L140.4,315.7 L141.1,315.0 L141.9,314.3 L142.6,313.6 L143.3,312.9 L144.0,312.2 L144.7,311.5 L145.4,310.8 L146.2,310.1 L146.9,309.5 L147.7,308.9 L148.5,308.3 L149.4,307.8 L150.3,307.3 L151.1,306.8 L152.0,306.4 L152.9,305.9 L153.8,305.4 L154.7,304.9 L155.6,304.5 L156.4,304.0 L157.3,303.5 L158.2,303.0 L159.1,302.5 L159.9,302.0 L160.8,301.5 L161.7,301.1 L162.6,300.6 L163.5,300.2 L164.4,299.8 L165.4,299.4 L166.3,298.9 L167.2,298.5 L168.1,298.2 L169.0,297.8 L170.0,297.4 L170.9,297.1 L171.9,296.8 L172.9,296.5 L173.8,296.3 L174.8,296.0 L175.8,295.8 L176.8,295.6 L177.7,295.4 L178.7,295.2 L179.7,295.0 L180.7,294.8 L181.7,294.6 L182.7,294.5 L183.7,294.3 L184.7,294.2 L185.7,294.2 L186.7,294.1 L187.7,294.1 L188.7,294.0 L189.7,294.0 L190.7,294.0 L191.7,294.0 L192.7,294.1 L193.7,294.1 L194.7,294.2 L195.7,294.3 L196.7,294.4 L197.7,294.6 L198.7,294.7 L199.7,294.8 L200.6,295.0 L201.6,295.1 L202.6,295.3 L203.6,295.5 L204.6,295.6 L205.6,295.8 L206.6,296.0 L207.6,296.1 L208.6,296.3 L209.6,296.5 L210.5,296.7 L211.5,296.9 L212.5,297.1 L213.5,297.3 L214.5,297.5 L215.5,297.6 L216.5,297.8 L217.5,297.9 L218.5,298.0 L219.5,298.1 L220.5,298.1 L221.5,298.1 L222.5,298.0 L223.5,298.0 L224.5,297.9 L225.4,297.8 L226.4,297.6 L227.4,297.5 L228.4,297.2 L229.4,297.0 L230.3,296.7 L231.3,296.4 L232.2,296.0 L233.1,295.6 L234.0,295.2 L235.0,294.8 L235.9,294.4 L236.8,294.0 L237.6,293.5 L238.5,292.9 L239.3,292.4 L240.0,291.7 L240.7,291.1 L241.4,290.3 L242.1,289.6 L242.7,288.8 L243.3,288.0 L243.9,287.2 L244.4,286.3 L244.9,285.5 L245.4,284.6 L245.9,283.7 L246.3,282.8 L246.7,281.9 L247.1,281.0 L247.4,280.0 L247.8,279.1 L248.2,278.2 L248.6,277.3 L249.0,276.4 L249.5,275.5 L250.0,274.6 L250.4,273.7 L250.9,272.9 L251.4,272.0 L251.9,271.1 L252.4,270.2 L252.9,269.4 L253.4,268.5 L254.0,267.7 L254.5,266.8 L255.1,266.0 L255.6,265.2 L256.2,264.3 L256.7,263.5 L257.3,262.6 L257.8,261.8 L258.3,260.9 L258.9,260.1 L259.4,259.3 L260.0,258.4 L260.5,257.6 L261.1,256.8 L261.7,256.0 L262.3,255.2 L262.9,254.4 L263.5,253.6 L264.2,252.8 L264.8,252.0 L265.4,251.2 L266.0,250.4 L266.6,249.6 L267.3,248.8 L267.9,248.1 L268.6,247.3 L269.3,246.6 L270.0,245.9 L270.7,245.2 L271.5,244.6 L272.2,244.0 L273.1,243.4 L273.9,243.0 L274.8,242.6 L275.8,242.2 L276.7,242.0 L277.7,241.8 L278.7,241.7 L279.7,241.7 L280.7,241.7 L281.6,241.8 L282.6,241.9 L283.6,242.1 L284.6,242.4 L285.5,242.7 L286.4,243.0 L287.4,243.4 L288.2,243.8 L289.1,244.3 L289.9,244.9 L290.7,245.4 L291.5,246.1 L292.2,246.8 L292.9,247.5 L293.6,248.2 L294.3,248.9 L294.9,249.7 L295.6,250.5 L296.2,251.3 L296.8,252.0 L297.4,252.8 L298.0,253.7 L298.6,254.5 L299.2,255.3 L299.8,256.1 L300.4,256.9 L301.0,257.7 L301.5,258.6 L302.1,259.4 L302.6,260.2 L303.2,261.1 L303.7,261.9 L304.3,262.8 L304.8,263.6 L305.4,264.5 L305.9,265.3 L306.4,266.2 L307.0,267.0 L307.5,267.9 L308.0,268.7 L308.6,269.6 L309.1,270.4 L309.7,271.2 L310.2,272.1 L310.8,272.9 L311.5,273.6 L312.1,274.4 L312.8,275.1 L313.5,275.8 L314.2,276.5 L315.0,277.2 L315.7,277.9 L316.5,278.5 L317.2,279.2 L318.0,279.8 L318.8,280.4 L319.7,280.9 L320.5,281.5 L321.4,282.0 L322.2,282.5 L323.1,283.0 L324.0,283.5 L324.9,284.0 L325.7,284.5 L326.5,285.0 L327.4,285.6 L328.2,286.2 L329.0,286.8 L329.8,287.4 L330.6,288.0 L331.4,288.6 L332.2,289.2 L333.0,289.8 L333.8,290.4 L334.7,290.9 L335.5,291.5 L336.3,292.1 L337.1,292.7 L337.9,293.3 L338.7,293.9 L339.5,294.5 L340.2,295.2 L341.0,295.8 L341.8,296.5 L342.5,297.1 L343.3,297.8 L344.1,298.4 L344.9,299.0 L345.7,299.7 L346.5,300.3 L347.3,300.9 L348.1,301.5 L348.9,302.0 L349.7,302.6 L350.6,303.1 L351.4,303.7 L352.3,304.2 L353.1,304.7 L354.0,305.2 L354.9,305.7 L355.7,306.2 L356.6,306.7 L357.5,307.1 L358.4,307.6 L359.3,308.0 L360.2,308.5 L361.1,308.9 L362.1,309.3 L363.0,309.7 L363.9,310.1 L364.8,310.5 L365.7,310.9 L366.7,311.3 L367.6,311.7 L368.5,312.1 L369.4,312.5 L370.4,312.9 L371.3,313.2 L372.2,313.6 L373.1,314.0 L374.1,314.4 L375.0,314.8 L375.9,315.2 L376.9,315.5 L377.8,315.9 L378.7,316.2 L379.7,316.6 L380.6,316.9 L381.6,317.3 L382.5,317.6 L383.5,317.9 L384.4,318.2 L385.4,318.5 L386.4,318.8 L387.3,319.0 L388.3,319.3 L389.3,319.6 L390.2,319.8 L391.2,320.1 L392.2,320.4 L393.1,320.6 L394.1,320.9 L395.1,321.2 L396.0,321.5 L397.0,321.9 L397.9,322.2 L398.9,322.5 L399.8,322.9 L400.7,323.3 L401.6,323.7 L402.6,324.1 L403.5,324.5 L404.4,324.9 L405.3,325.3 L406.2,325.7 L407.1,326.1 L408.1,326.4 L409.0,326.7 L410.0,327.0 L411.0,327.2 L412.0,327.5 L412.9,327.7 L413.9,327.9 L414.9,328.1 L415.9,328.3 L416.9,328.5 L417.9,328.6 L418.9,328.8 L419.8,328.9 L420.8,329.1 L421.8,329.2 L422.8,329.3 L423.8,329.4 L424.8,329.5 L425.8,329.6 L426.8,329.7 L427.8,329.8 L428.8,329.9 L429.8,330.0 L430.8,330.1 L431.8,330.1 L432.8,330.2 L433.8,330.3 L434.8,330.3 L435.8,330.4 L436.8,330.4 L437.8,330.5 L438.9,330.5 L439.9,330.6 L440.9,330.6 L441.9,330.7 L442.9,330.7 L443.9,330.8 L444.9,330.8 L445.9,330.9 L446.9,330.9 L447.9,330.9 L448.9,331.0 L449.9,331.0 L450.9,331.0 L451.9,331.0 L452.9,331.1 L453.9,331.1 L454.9,331.1 L455.9,331.1 L456.9,331.2 L457.9,331.2 L458.9,331.2 L459.9,331.2 L460.9,331.2 L461.9,331.3 L462.9,331.3 L463.9,331.3 L464.9,331.3 L466.0,331.3 L467.0,331.3 L468.0,331.4 L469.0,331.4 L470.0,331.4 L471.0,331.4 L472.0,331.4 L473.0,331.4 L473.9,331.4 L474.9,331.5 L475.7,331.5 L476.4,331.5 L477.0,331.5" fill="none" stroke="#7a7a7a" stroke-width="1.7" stroke-linejoin="round" stroke-linecap="round"/>
<path d="M85.6,335.8 L86.2,335.7 L87.0,335.4 L87.9,335.2 L88.9,334.9 L89.8,334.6 L90.8,334.4 L91.8,334.1 L92.7,333.8 L93.7,333.4 L94.6,333.1 L95.5,332.7 L96.4,332.3 L97.3,331.8 L98.2,331.3 L99.0,330.7 L99.9,330.2 L100.7,329.7 L101.6,329.2 L102.5,328.7 L103.4,328.2 L104.3,327.8 L105.2,327.3 L106.1,326.9 L107.0,326.4 L107.9,325.9 L108.8,325.5 L109.6,325.0 L110.5,324.5 L111.4,324.0 L112.3,323.5 L113.2,323.0 L114.0,322.5 L114.9,322.0 L115.8,321.5 L116.6,321.0 L117.5,320.5 L118.3,319.9 L119.2,319.4 L120.0,318.8 L120.9,318.3 L121.7,317.7 L122.5,317.2 L123.3,316.6 L124.2,316.0 L125.0,315.4 L125.8,314.8 L126.6,314.2 L127.3,313.5 L128.1,312.8 L128.8,312.2 L129.5,311.5 L130.2,310.8 L131.0,310.0 L131.7,309.3 L132.4,308.6 L133.1,307.9 L133.8,307.2 L134.5,306.5 L135.1,305.7 L135.8,304.9 L136.4,304.2 L137.0,303.4 L137.6,302.5 L138.2,301.7 L138.7,300.9 L139.3,300.1 L139.9,299.2 L140.5,298.4 L141.1,297.6 L141.7,296.8 L142.3,296.0 L142.9,295.2 L143.6,294.5 L144.2,293.7 L144.8,292.9 L145.4,292.0 L145.9,291.2 L146.3,290.3 L146.7,289.4 L147.1,288.4 L147.4,287.5 L147.7,286.5 L148.1,285.6 L148.4,284.6 L148.8,283.7 L149.2,282.8 L149.6,281.8 L149.9,280.9 L150.3,280.0 L150.7,279.1 L151.1,278.1 L151.5,277.2 L151.8,276.3 L152.2,275.3 L152.5,274.4 L152.8,273.4 L153.2,272.5 L153.5,271.5 L153.8,270.6 L154.2,269.6 L154.5,268.7 L154.9,267.7 L155.2,266.8 L155.6,265.8 L155.9,264.9 L156.3,264.0 L156.6,263.0 L157.0,262.1 L157.4,261.1 L157.7,260.2 L158.1,259.3 L158.5,258.4 L158.9,257.4 L159.3,256.5 L159.6,255.6 L160.0,254.6 L160.3,253.7 L160.7,252.7 L161.0,251.8 L161.4,250.9 L161.8,249.9 L162.2,249.0 L162.6,248.1 L163.1,247.2 L163.6,246.4 L164.2,245.6 L164.9,244.9 L165.7,244.4 L166.6,244.0 L167.5,243.7 L168.5,243.6 L169.5,243.7 L170.5,243.9 L171.4,244.2 L172.3,244.6 L173.2,245.1 L174.0,245.6 L174.8,246.3 L175.5,247.0 L176.2,247.7 L176.8,248.5 L177.4,249.3 L177.9,250.2 L178.4,251.0 L178.9,251.9 L179.4,252.8 L179.8,253.7 L180.2,254.6 L180.6,255.6 L181.0,256.5 L181.4,257.4 L181.7,258.3 L182.1,259.3 L182.5,260.2 L182.9,261.1 L183.3,262.0 L183.7,263.0 L184.2,263.9 L184.6,264.8 L185.0,265.7 L185.5,266.6 L186.0,267.5 L186.4,268.4 L186.9,269.3 L187.3,270.2 L187.8,271.0 L188.2,271.9 L188.7,272.8 L189.2,273.7 L189.6,274.6 L190.1,275.5 L190.6,276.4 L191.1,277.3 L191.5,278.2 L192.0,279.1 L192.5,280.0 L192.9,280.9 L193.4,281.8 L193.8,282.7 L194.2,283.6 L194.6,284.5 L195.1,285.4 L195.5,286.3 L195.9,287.2 L196.3,288.1 L196.8,289.0 L197.2,289.9 L197.7,290.8 L198.2,291.7 L198.6,292.6 L199.1,293.5 L199.6,294.4 L200.1,295.2 L200.6,296.1 L201.2,296.9 L201.7,297.8 L202.2,298.7 L202.7,299.5 L203.3,300.4 L203.8,301.2 L204.4,302.0 L205.0,302.9 L205.6,303.7 L206.2,304.5 L206.8,305.2 L207.5,306.0 L208.2,306.7 L208.9,307.4 L209.6,308.1 L210.4,308.8 L211.1,309.5 L211.9,310.1 L212.6,310.8 L213.4,311.4 L214.2,312.0 L215.0,312.6 L215.9,313.2 L216.7,313.8 L217.5,314.4 L218.3,315.0 L219.1,315.6 L219.9,316.2 L220.7,316.7 L221.6,317.3 L222.4,317.9 L223.3,318.4 L224.1,318.8 L225.1,319.3 L226.0,319.6 L226.9,319.9 L227.9,320.2 L228.9,320.5 L229.9,320.7 L230.8,320.9 L231.8,321.2 L232.8,321.4 L233.8,321.7 L234.7,322.0 L235.7,322.3 L236.6,322.7 L237.5,323.1 L238.4,323.5 L239.4,323.9 L240.3,324.3 L241.2,324.6 L242.2,325.0 L243.1,325.4 L244.0,325.7 L245.0,326.1 L245.9,326.4 L246.9,326.7 L247.8,327.0 L248.8,327.3 L249.8,327.6 L250.8,327.8 L251.7,328.0 L252.7,328.1 L253.7,328.3 L254.7,328.4 L255.7,328.5 L256.7,328.6 L257.7,328.7 L258.7,328.8 L259.7,328.9 L260.7,329.0 L261.7,329.0 L262.7,329.1 L263.7,329.1 L264.7,329.2 L265.7,329.3 L266.7,329.4 L267.8,329.4 L268.8,329.5 L269.8,329.6 L270.8,329.6 L271.8,329.7 L272.8,329.8 L273.8,329.8 L274.8,329.9 L275.8,330.0 L276.8,330.0 L277.8,330.1 L278.8,330.1 L279.8,330.2 L280.8,330.3 L281.8,330.3 L282.8,330.4 L283.8,330.4 L284.8,330.5 L285.8,330.6 L286.8,330.6 L287.8,330.7 L288.8,330.7 L289.8,330.8 L290.8,330.9 L291.8,330.9 L292.8,331.0 L293.8,331.1 L294.8,331.2 L295.9,331.2 L296.9,331.3 L297.9,331.4 L298.9,331.4 L299.9,331.5 L300.9,331.6 L301.9,331.6 L302.9,331.7 L303.9,331.8 L304.9,331.8 L305.9,331.9 L306.9,332.0 L307.9,332.0 L308.9,332.1 L309.9,332.2 L310.9,332.2 L311.9,332.3 L312.9,332.4 L313.9,332.4 L314.9,332.5 L315.9,332.5 L316.9,332.6 L317.9,332.7 L318.9,332.7 L319.9,332.8 L320.9,332.8 L321.9,332.9 L322.9,332.9 L324.0,333.0 L325.0,333.0 L326.0,333.1 L327.0,333.1 L328.0,333.2 L329.0,333.2 L330.0,333.3 L331.0,333.3 L332.0,333.4 L332.9,333.4 L333.8,333.4 L334.4,333.5" fill="none" stroke="#a4a4a4" stroke-width="1.6" stroke-linejoin="round" stroke-linecap="round"/>
<path d="M100.6,336.4 L101.2,336.3 L102.0,336.2 L103.0,336.1 L104.0,336.0 L105.0,335.9 L106.0,335.7 L107.0,335.6 L108.0,335.4 L108.9,335.2 L109.9,335.0 L110.9,334.8 L111.9,334.5 L112.8,334.2 L113.8,334.0 L114.8,333.7 L115.7,333.4 L116.7,333.0 L117.6,332.7 L118.6,332.3 L119.5,332.0 L120.4,331.6 L121.4,331.2 L122.3,330.8 L123.2,330.4 L124.1,330.0 L125.0,329.6 L125.9,329.2 L126.8,328.7 L127.7,328.2 L128.6,327.8 L129.5,327.3 L130.3,326.8 L131.2,326.2 L132.1,325.7 L132.9,325.2 L133.7,324.6 L134.6,324.1 L135.4,323.5 L136.2,322.9 L137.0,322.3 L137.8,321.7 L138.6,321.0 L139.3,320.4 L140.0,319.7 L140.7,318.9 L141.4,318.2 L142.0,317.4 L142.5,316.5 L143.0,315.7 L143.4,314.8 L143.8,313.8 L144.2,312.9 L144.5,312.0 L144.8,311.0 L145.1,310.0 L145.4,309.1 L145.6,308.1 L145.8,307.1 L146.0,306.1 L146.2,305.1 L146.5,304.2 L146.7,303.2 L146.9,302.2 L147.1,301.2 L147.3,300.2 L147.5,299.3 L147.7,298.3 L147.9,297.3 L148.1,296.3 L148.3,295.3 L148.5,294.3 L148.7,293.4 L148.9,292.4 L149.1,291.4 L149.3,290.4 L149.5,289.4 L149.8,288.4 L150.0,287.5 L150.2,286.5 L150.4,285.5 L150.6,284.5 L150.8,283.5 L151.1,282.6 L151.3,281.6 L151.6,280.6 L151.8,279.6 L152.0,278.7 L152.3,277.7 L152.5,276.7 L152.8,275.7 L153.1,274.8 L153.4,273.8 L153.6,272.8 L153.9,271.9 L154.2,270.9 L154.5,270.0 L154.8,269.0 L155.2,268.1 L155.5,267.1 L155.8,266.1 L156.1,265.2 L156.4,264.2 L156.7,263.3 L157.0,262.3 L157.4,261.4 L157.7,260.4 L158.1,259.5 L158.4,258.6 L158.8,257.6 L159.2,256.7 L159.6,255.8 L160.0,254.9 L160.5,254.0 L161.0,253.1 L161.6,252.3 L162.2,251.6 L163.0,251.1 L163.9,250.8 L164.8,250.8 L165.7,251.0 L166.5,251.4 L167.3,252.0 L168.1,252.7 L168.7,253.4 L169.4,254.2 L170.0,255.0 L170.5,255.8 L171.1,256.7 L171.6,257.5 L172.1,258.4 L172.6,259.3 L173.0,260.2 L173.4,261.1 L173.8,262.0 L174.2,263.0 L174.5,263.9 L174.9,264.8 L175.3,265.7 L175.7,266.7 L176.1,267.6 L176.5,268.5 L176.9,269.5 L177.2,270.4 L177.6,271.3 L177.9,272.3 L178.3,273.2 L178.7,274.1 L179.0,275.1 L179.4,276.0 L179.8,276.9 L180.2,277.8 L180.6,278.8 L181.0,279.7 L181.4,280.6 L181.9,281.5 L182.3,282.4 L182.8,283.3 L183.3,284.2 L183.8,285.0 L184.3,285.9 L184.9,286.7 L185.5,287.5 L186.0,288.3 L186.6,289.2 L187.1,290.0 L187.6,290.9 L188.1,291.8 L188.5,292.7 L188.9,293.6 L189.3,294.6 L189.6,295.5 L190.0,296.4 L190.4,297.4 L190.7,298.3 L191.1,299.2 L191.5,300.2 L191.9,301.1 L192.3,302.0 L192.6,303.0 L193.0,303.9 L193.4,304.8 L193.8,305.7 L194.2,306.6 L194.6,307.6 L195.0,308.5 L195.4,309.4 L195.8,310.3 L196.3,311.2 L196.7,312.1 L197.1,313.1 L197.5,314.0 L198.0,314.9 L198.4,315.8 L198.9,316.6 L199.4,317.5 L200.0,318.4 L200.5,319.2 L201.1,320.0 L201.7,320.8 L202.3,321.6 L202.9,322.4 L203.6,323.2 L204.3,323.9 L205.0,324.6 L205.7,325.3 L206.5,325.9 L207.3,326.5 L208.1,327.1 L208.9,327.7 L209.8,328.2 L210.6,328.7 L211.5,329.2 L212.4,329.6 L213.4,330.0 L214.3,330.4 L215.2,330.7 L216.2,331.0 L217.1,331.3 L218.1,331.6 L219.1,331.8 L220.1,332.0 L221.1,332.2 L222.0,332.4 L223.0,332.6 L224.0,332.7 L225.0,332.8 L226.0,333.0 L227.0,333.1 L228.0,333.2 L229.0,333.3 L230.0,333.4 L231.0,333.5 L232.0,333.6 L233.0,333.8 L234.0,333.9 L235.0,334.0 L236.0,334.1 L237.0,334.2 L238.0,334.3 L238.8,334.4 L239.4,334.4" fill="none" stroke="#787878" stroke-width="1.6" stroke-linejoin="round" stroke-linecap="round"/>
<path d="M118.6,335.5 L119.2,335.4 L120.1,335.4 L121.0,335.3 L122.0,335.2 L123.0,335.1 L124.0,335.0 L125.0,334.8 L126.0,334.6 L126.9,334.4 L127.9,334.0 L128.7,333.6 L129.6,333.0 L130.3,332.4 L131.0,331.7 L131.7,330.9 L132.3,330.1 L132.9,329.4 L133.5,328.6 L134.1,327.8 L134.7,327.0 L135.3,326.1 L135.8,325.3 L136.3,324.4 L136.8,323.5 L137.2,322.6 L137.7,321.7 L138.1,320.8 L138.6,319.9 L139.0,319.0 L139.5,318.1 L139.9,317.2 L140.3,316.3 L140.7,315.4 L141.0,314.4 L141.3,313.5 L141.6,312.5 L141.8,311.5 L142.1,310.6 L142.3,309.6 L142.6,308.6 L142.8,307.6 L143.0,306.7 L143.3,305.7 L143.5,304.7 L143.7,303.7 L143.9,302.8 L144.1,301.8 L144.3,300.8 L144.5,299.8 L144.8,298.8 L145.0,297.8 L145.2,296.9 L145.4,295.9 L145.6,294.9 L145.9,293.9 L146.1,293.0 L146.4,292.0 L146.7,291.0 L146.9,290.1 L147.2,289.1 L147.5,288.1 L147.8,287.2 L148.0,286.2 L148.3,285.2 L148.6,284.3 L148.9,283.3 L149.2,282.4 L149.5,281.4 L149.7,280.4 L150.0,279.4 L150.2,278.5 L150.4,277.5 L150.7,276.5 L150.9,275.5 L151.1,274.6 L151.3,273.6 L151.5,272.6 L151.7,271.6 L151.9,270.6 L152.1,269.6 L152.3,268.7 L152.4,267.7 L152.5,266.7 L152.6,265.7 L152.7,264.7 L152.8,263.7 L152.9,262.7 L153.0,261.7 L153.2,260.7 L153.3,259.7 L153.6,258.7 L153.8,257.8 L154.1,256.8 L154.3,255.8 L154.5,254.8 L154.7,253.8 L154.9,252.9 L155.1,251.9 L155.3,250.9 L155.4,249.9 L155.6,248.9 L155.8,247.9 L155.9,246.9 L156.1,245.9 L156.3,245.0 L156.5,244.0 L156.7,243.0 L156.8,242.0 L157.0,241.0 L157.2,240.0 L157.4,239.0 L157.6,238.0 L157.8,237.1 L158.0,236.1 L158.2,235.1 L158.4,234.1 L158.6,233.1 L158.8,232.1 L159.0,231.2 L159.2,230.2 L159.5,229.2 L159.7,228.2 L160.0,227.3 L160.2,226.3 L160.4,225.3 L160.7,224.3 L160.9,223.4 L161.2,222.4 L161.4,221.4 L161.7,220.5 L161.9,219.5 L162.2,218.5 L162.4,217.5 L162.6,216.6 L162.9,215.6 L163.1,214.6 L163.4,213.6 L163.6,212.7 L163.9,211.7 L164.2,210.7 L164.4,209.8 L164.7,208.8 L165.0,207.8 L165.3,206.9 L165.6,205.9 L165.9,204.9 L166.1,204.0 L166.4,203.0 L166.7,202.0 L166.9,201.1 L167.2,200.1 L167.5,199.1 L167.8,198.2 L168.1,197.2 L168.4,196.3 L168.7,195.3 L169.0,194.4 L169.3,193.4 L169.6,192.4 L169.9,191.5 L170.3,190.6 L170.7,189.6 L171.1,188.8 L171.6,187.9 L172.2,187.0 L172.7,186.2 L173.3,185.4 L173.8,184.5 L174.3,183.7 L174.8,182.8 L175.3,181.9 L175.7,181.0 L176.2,180.1 L176.6,179.2 L177.0,178.3 L177.4,177.4 L177.8,176.5 L178.2,175.5 L178.6,174.6 L178.9,173.7 L179.3,172.7 L179.7,171.8 L180.1,170.9 L180.4,169.9 L180.8,169.0 L181.2,168.1 L181.5,167.1 L181.9,166.2 L182.3,165.3 L182.7,164.3 L183.1,163.4 L183.5,162.5 L184.0,161.6 L184.5,160.8 L185.0,159.9 L185.6,159.1 L186.2,158.3 L186.9,157.6 L187.7,156.9 L188.4,156.3 L189.3,155.8 L190.2,155.3 L191.1,155.0 L192.1,154.8 L193.0,154.7 L194.0,154.8 L195.0,155.0 L195.9,155.3 L196.7,155.8 L197.4,156.5 L198.1,157.2 L198.6,158.0 L199.2,158.9 L199.6,159.8 L200.1,160.7 L200.5,161.6 L200.9,162.5 L201.4,163.4 L201.8,164.3 L202.3,165.2 L202.7,166.1 L203.2,167.0 L203.6,167.9 L204.1,168.8 L204.5,169.7 L204.9,170.6 L205.3,171.5 L205.7,172.4 L206.1,173.4 L206.5,174.3 L206.9,175.2 L207.3,176.1 L207.6,177.1 L208.0,178.0 L208.3,179.0 L208.7,179.9 L209.0,180.8 L209.4,181.8 L209.7,182.7 L210.0,183.7 L210.3,184.6 L210.6,185.6 L211.0,186.6 L211.3,187.5 L211.6,188.5 L211.9,189.4 L212.2,190.4 L212.5,191.3 L212.8,192.3 L213.1,193.2 L213.4,194.2 L213.8,195.1 L214.1,196.1 L214.4,197.0 L214.7,198.0 L215.0,199.0 L215.3,199.9 L215.6,200.9 L215.9,201.8 L216.2,202.8 L216.6,203.7 L216.9,204.7 L217.2,205.6 L217.5,206.6 L217.8,207.6 L218.1,208.5 L218.4,209.5 L218.7,210.4 L219.0,211.4 L219.3,212.3 L219.6,213.3 L219.9,214.2 L220.2,215.2 L220.5,216.2 L220.9,217.1 L221.2,218.1 L221.5,219.0 L221.8,220.0 L222.0,220.9 L222.3,221.9 L222.6,222.9 L222.8,223.9 L223.0,224.8 L223.2,225.8 L223.4,226.8 L223.6,227.8 L223.8,228.8 L224.0,229.8 L224.2,230.7 L224.4,231.7 L224.6,232.7 L224.9,233.7 L225.2,234.6 L225.5,235.6 L225.9,236.5 L226.2,237.5 L226.6,238.4 L226.9,239.3 L227.3,240.3 L227.7,241.2 L228.1,242.1 L228.5,243.0 L229.0,243.9 L229.4,244.8 L229.8,245.7 L230.3,246.6 L230.7,247.5 L231.2,248.4 L231.6,249.3 L232.1,250.2 L232.5,251.1 L233.0,252.0 L233.4,252.9 L233.9,253.8 L234.3,254.7 L234.8,255.6 L235.2,256.5 L235.7,257.4 L236.1,258.3 L236.6,259.2 L237.1,260.1 L237.6,260.9 L238.1,261.8 L238.7,262.6 L239.2,263.4 L239.8,264.3 L240.4,265.1 L241.0,265.9 L241.6,266.7 L242.2,267.5 L242.7,268.3 L243.3,269.2 L243.9,270.0 L244.4,270.8 L245.0,271.7 L245.5,272.5 L246.1,273.4 L246.6,274.2 L247.2,275.0 L247.8,275.8 L248.4,276.6 L249.1,277.4 L249.7,278.1 L250.4,278.9 L251.1,279.6 L251.8,280.3 L252.5,281.0 L253.2,281.7 L253.9,282.4 L254.7,283.1 L255.4,283.8 L256.2,284.4 L257.0,285.0 L257.8,285.6 L258.6,286.2 L259.4,286.8 L260.3,287.4 L261.1,287.9 L261.9,288.4 L262.8,289.0 L263.6,289.5 L264.5,290.1 L265.3,290.6 L266.2,291.2 L267.0,291.7 L267.8,292.3 L268.6,292.9 L269.4,293.6 L270.2,294.2 L271.0,294.8 L271.8,295.3 L272.6,295.9 L273.5,296.5 L274.3,297.1 L275.1,297.6 L275.9,298.2 L276.8,298.7 L277.6,299.3 L278.4,299.9 L279.3,300.4 L280.1,301.0 L281.0,301.5 L281.8,302.1 L282.6,302.7 L283.4,303.2 L284.3,303.8 L285.1,304.4 L285.9,304.9 L286.8,305.5 L287.6,306.0 L288.4,306.6 L289.3,307.2 L290.1,307.7 L290.9,308.3 L291.8,308.8 L292.6,309.3 L293.5,309.9 L294.3,310.4 L295.2,310.9 L296.1,311.4 L296.9,311.9 L297.8,312.4 L298.7,313.0 L299.5,313.4 L300.4,313.9 L301.3,314.4 L302.2,314.9 L303.0,315.4 L303.9,315.9 L304.8,316.3 L305.7,316.8 L306.6,317.3 L307.5,317.7 L308.4,318.2 L309.3,318.6 L310.2,319.1 L311.1,319.5 L312.0,320.0 L312.9,320.4 L313.8,320.9 L314.7,321.3 L315.6,321.7 L316.5,322.2 L317.4,322.6 L318.3,323.0 L319.2,323.4 L320.1,323.8 L321.1,324.2 L322.0,324.7 L322.9,325.1 L323.8,325.5 L324.7,325.9 L325.7,326.2 L326.6,326.6 L327.5,327.0 L328.5,327.3 L329.4,327.7 L330.4,328.0 L331.3,328.3 L332.3,328.6 L333.2,328.9 L334.2,329.2 L335.2,329.4 L336.1,329.7 L337.1,329.9 L338.1,330.1 L339.1,330.4 L340.1,330.6 L341.0,330.8 L342.0,331.0 L343.0,331.2 L344.0,331.4 L345.0,331.6 L346.0,331.7 L347.0,331.9 L347.9,332.1 L348.9,332.2 L349.9,332.4 L350.9,332.5 L351.9,332.6 L352.9,332.8 L353.9,332.9 L354.9,333.0 L355.9,333.1 L356.9,333.2 L357.9,333.3 L358.9,333.4 L359.9,333.4 L360.9,333.5 L361.9,333.6 L362.9,333.6 L363.9,333.7 L364.9,333.8 L365.9,333.8 L366.9,333.9 L367.9,333.9 L368.9,334.0 L369.9,334.0 L370.9,334.0 L371.9,334.1 L372.9,334.1 L373.9,334.1 L374.9,334.2 L376.0,334.2 L377.0,334.2 L378.0,334.2 L379.0,334.3 L380.0,334.3 L381.0,334.3 L382.0,334.3 L383.0,334.4 L384.0,334.4 L385.0,334.4 L386.0,334.4 L387.0,334.4 L387.9,334.5 L388.8,334.5 L389.4,334.5" fill="none" stroke="#ababab" stroke-width="1.7" stroke-linejoin="round" stroke-linecap="round"/>
<path d="M201.0,336.0 L201.6,336.0 L202.3,336.0 L203.1,336.0 L204.1,336.0 L205.0,336.0 L206.0,336.0 L207.0,336.0 L208.0,336.0 L209.0,336.0 L210.0,336.0 L211.0,336.1 L212.0,336.1 L213.0,336.1 L214.1,336.1 L215.1,336.1 L216.1,336.1 L217.1,336.1 L218.1,336.1 L219.1,336.1 L220.1,336.1 L221.1,336.1 L222.1,336.1 L223.1,336.1 L224.1,336.1 L225.1,336.0 L226.1,336.0 L227.1,336.0 L228.1,336.0 L229.1,336.0 L230.1,336.0 L231.1,336.0 L232.1,336.0 L233.1,335.9 L234.1,335.9 L235.1,335.9 L236.1,335.9 L237.1,335.8 L238.1,335.8 L239.1,335.8 L240.1,335.7 L241.2,335.7 L242.2,335.7 L243.2,335.6 L244.2,335.6 L245.2,335.5 L246.2,335.5 L247.2,335.4 L248.2,335.4 L249.2,335.3 L250.2,335.3 L251.2,335.2 L252.2,335.2 L253.2,335.1 L254.2,335.0 L255.2,335.0 L256.2,334.9 L257.2,334.8 L258.2,334.7 L259.2,334.5 L260.2,334.4 L261.1,334.2 L262.1,334.0 L263.1,333.7 L264.0,333.4 L265.0,333.1 L265.9,332.7 L266.8,332.3 L267.7,331.9 L268.6,331.4 L269.5,331.0 L270.4,330.6 L271.2,330.2 L272.1,329.8 L272.9,329.3 L273.6,328.7 L274.4,328.1 L275.1,327.4 L275.7,326.6 L276.4,325.9 L277.1,325.2 L277.8,324.4 L278.5,323.8 L279.3,323.1 L280.0,322.5 L280.9,321.9 L281.7,321.4 L282.6,320.9 L283.4,320.4 L284.3,319.9 L285.2,319.4 L286.0,318.9 L286.9,318.4 L287.8,318.0 L288.7,317.5 L289.6,317.1 L290.6,316.7 L291.5,316.4 L292.4,316.1 L293.4,315.8 L294.4,315.5 L295.3,315.3 L296.3,315.1 L297.3,315.0 L298.3,314.9 L299.3,314.8 L300.3,314.7 L301.3,314.7 L302.3,314.6 L303.3,314.6 L304.3,314.6 L305.3,314.6 L306.3,314.6 L307.3,314.6 L308.3,314.7 L309.3,314.7 L310.3,314.8 L311.3,314.9 L312.3,315.0 L313.3,315.1 L314.3,315.2 L315.3,315.3 L316.3,315.5 L317.3,315.6 L318.3,315.7 L319.3,315.9 L320.3,316.0 L321.3,316.2 L322.3,316.4 L323.3,316.6 L324.2,316.8 L325.2,317.0 L326.2,317.2 L327.2,317.4 L328.2,317.6 L329.1,317.8 L330.1,318.0 L331.1,318.2 L332.1,318.4 L333.1,318.6 L334.1,318.8 L335.0,319.0 L336.0,319.2 L337.0,319.4 L338.0,319.6 L339.0,319.8 L340.0,320.0 L340.9,320.2 L341.9,320.4 L342.9,320.6 L343.9,320.8 L344.9,321.1 L345.8,321.3 L346.8,321.6 L347.8,321.9 L348.7,322.2 L349.7,322.5 L350.6,322.8 L351.6,323.1 L352.5,323.5 L353.4,323.9 L354.3,324.3 L355.2,324.7 L356.1,325.2 L357.0,325.6 L358.0,326.0 L358.9,326.3 L359.8,326.6 L360.8,326.9 L361.8,327.1 L362.8,327.2 L363.7,327.4 L364.7,327.5 L365.7,327.6 L366.7,327.8 L367.7,327.9 L368.7,328.0 L369.7,328.2 L370.7,328.3 L371.7,328.4 L372.7,328.6 L373.7,328.7 L374.7,328.9 L375.7,329.0 L376.7,329.1 L377.7,329.2 L378.7,329.3 L379.7,329.4 L380.7,329.5 L381.7,329.6 L382.7,329.7 L383.7,329.8 L384.7,329.8 L385.7,329.9 L386.7,329.9 L387.7,330.0 L388.7,330.0 L389.7,330.1 L390.7,330.1 L391.7,330.2 L392.7,330.2 L393.7,330.3 L394.7,330.3 L395.7,330.4 L396.7,330.4 L397.7,330.4 L398.7,330.5 L399.7,330.5 L400.7,330.5 L401.7,330.5 L402.7,330.6 L403.7,330.6 L404.7,330.6 L405.7,330.7 L406.7,330.7 L407.7,330.7 L408.7,330.7 L409.7,330.7 L410.7,330.8 L411.8,330.8 L412.8,330.8 L413.8,330.8 L414.8,330.8 L415.8,330.8 L416.8,330.9 L417.8,330.9 L418.8,330.9 L419.8,330.9 L420.8,330.9 L421.8,330.9 L422.8,330.9 L423.8,330.9 L424.8,331.0 L425.8,331.0 L426.8,331.0 L427.8,331.0 L428.8,331.0 L429.8,331.0 L430.8,331.0 L431.8,331.0 L432.8,331.0 L433.8,331.0 L434.8,331.0 L435.8,331.0 L436.8,331.0 L437.8,331.0 L438.9,331.0 L439.9,331.0 L440.9,331.0 L441.9,331.0 L442.9,331.0 L443.9,331.0 L444.9,331.0 L445.9,331.0 L446.9,331.0 L447.9,331.0 L448.9,331.0 L449.9,331.0 L450.9,331.0 L451.9,331.0 L452.9,331.0 L453.9,331.0 L454.9,331.0 L455.9,331.0 L456.9,331.0 L457.9,331.0 L458.9,331.0 L459.9,331.0 L460.9,331.0 L461.9,331.0 L462.9,331.0 L463.9,331.0 L465.0,331.0 L466.0,331.0 L467.0,331.0 L468.0,331.0 L469.0,331.0 L470.0,331.0 L471.0,331.0 L472.0,331.0 L473.0,331.0 L473.9,331.0 L474.9,331.0 L475.7,331.0 L476.4,331.0 L477.0,331.0" fill="none" stroke="#2a2a2a" stroke-width="1.6" stroke-linejoin="round" stroke-linecap="round"/>
<path d="M58.7,333.1 L59.2,332.9 L59.9,332.6 L60.7,332.3 L61.7,332.2 L62.7,332.0 L63.6,332.0 L64.6,332.0 L65.7,332.0 L66.7,332.0 L67.7,332.0 L68.7,332.0 L69.7,332.0 L70.7,331.9 L71.6,331.7 L72.6,331.5 L73.6,331.2 L74.5,331.0 L75.5,330.8 L76.5,330.6 L77.5,330.5 L78.5,330.5 L79.5,330.4 L80.5,330.3 L81.4,330.1 L82.4,329.9 L83.4,329.7 L84.4,329.4 L85.3,329.2 L86.3,329.0 L87.3,328.8 L88.3,328.6 L89.3,328.5 L90.3,328.3 L91.3,328.2 L92.3,328.0 L93.3,327.9 L94.3,327.7 L95.3,327.5 L96.2,327.3 L97.2,327.1 L98.2,326.9 L99.2,326.6 L100.1,326.3 L101.0,325.9 L101.9,325.5 L102.8,325.0 L103.7,324.6 L104.6,324.1 L105.5,323.6 L106.3,323.1 L107.2,322.6 L108.1,322.0 L108.9,321.5 L109.7,320.9 L110.6,320.4 L111.4,319.8 L112.2,319.2 L113.0,318.5 L113.8,317.9 L114.5,317.3 L115.3,316.7 L116.1,316.0 L116.9,315.4 L117.7,314.7 L118.4,314.1 L119.2,313.5 L120.0,312.8 L120.8,312.2 L121.6,311.6 L122.4,310.9 L123.1,310.3 L123.9,309.6 L124.6,308.9 L125.3,308.2 L126.0,307.5 L126.7,306.8 L127.4,306.1 L128.2,305.4 L128.9,304.7 L129.6,304.0 L130.3,303.2 L131.0,302.5 L131.6,301.7 L132.3,301.0 L132.9,300.2 L133.5,299.4 L134.2,298.6 L134.8,297.8 L135.4,297.1 L136.1,296.3 L136.7,295.5 L137.4,294.8 L138.0,294.0 L138.6,293.2 L139.2,292.4 L139.8,291.5 L140.3,290.7 L140.9,289.8 L141.4,289.0 L141.9,288.1 L142.4,287.2 L142.9,286.4 L143.4,285.5 L143.9,284.6 L144.4,283.7 L144.9,282.9 L145.4,282.0 L146.0,281.2 L146.5,280.3 L147.1,279.5 L147.7,278.7 L148.4,278.0 L149.0,277.2 L149.7,276.4 L150.4,275.7 L151.0,274.9 L151.7,274.2 L152.4,273.5 L153.1,272.7 L153.8,272.0 L154.5,271.3 L155.2,270.6 L156.0,269.9 L156.7,269.2 L157.4,268.5 L158.2,267.9 L159.0,267.2 L159.7,266.6 L160.5,265.9 L161.3,265.3 L162.0,264.6 L162.8,264.0 L163.6,263.4 L164.4,262.8 L165.2,262.2 L166.1,261.6 L166.9,261.1 L167.8,260.6 L168.7,260.2 L169.6,259.8 L170.6,259.4 L171.5,259.1 L172.5,258.9 L173.4,258.6 L174.4,258.4 L175.3,258.1 L176.2,257.7 L177.1,257.2 L177.9,256.6 L178.7,256.0 L179.5,255.4 L180.3,254.8 L181.1,254.3 L182.0,253.8 L182.9,253.4 L183.8,253.1 L184.8,252.8 L185.7,252.6 L186.7,252.4 L187.7,252.2 L188.7,252.0 L189.7,252.0 L190.6,252.0 L191.5,252.2 L192.4,252.6 L193.3,253.0 L194.2,253.5 L195.0,254.1 L195.8,254.7 L196.5,255.4 L197.2,256.1 L197.8,256.9 L198.4,257.7 L198.9,258.5 L199.4,259.4 L200.0,260.2 L200.6,260.9 L201.3,261.6 L202.1,262.3 L202.8,262.9 L203.6,263.5 L204.4,264.2 L205.1,264.9 L205.7,265.6 L206.3,266.4 L206.9,267.3 L207.4,268.1 L208.0,268.9 L208.6,269.7 L209.3,270.5 L209.9,271.2 L210.6,272.0 L211.3,272.7 L212.0,273.4 L212.7,274.2 L213.3,274.9 L214.0,275.7 L214.6,276.5 L215.2,277.3 L215.8,278.1 L216.4,278.9 L217.0,279.7 L217.6,280.5 L218.2,281.3 L218.8,282.1 L219.5,282.9 L220.1,283.7 L220.7,284.5 L221.4,285.2 L222.0,286.0 L222.7,286.8 L223.3,287.6 L224.0,288.3 L224.6,289.1 L225.3,289.8 L226.0,290.5 L226.8,291.2 L227.5,291.9 L228.3,292.5 L229.0,293.2 L229.8,293.9 L230.5,294.6 L231.2,295.3 L231.9,296.0 L232.5,296.8 L233.2,297.6 L233.8,298.3 L234.5,299.1 L235.1,299.9 L235.7,300.7 L236.4,301.4 L237.0,302.2 L237.7,303.0 L238.3,303.7 L239.0,304.5 L239.6,305.3 L240.3,306.0 L241.0,306.8 L241.7,307.5 L242.3,308.3 L243.0,309.0 L243.7,309.7 L244.4,310.4 L245.2,311.1 L245.9,311.8 L246.6,312.5 L247.4,313.2 L248.1,313.8 L248.9,314.5 L249.7,315.1 L250.4,315.8 L251.2,316.4 L252.0,317.1 L252.8,317.7 L253.6,318.3 L254.3,319.0 L255.1,319.6 L255.9,320.3 L256.6,321.0 L257.3,321.6 L258.1,322.4 L258.8,323.1 L259.4,323.8 L260.1,324.6 L260.8,325.3 L261.5,326.1 L262.1,326.8 L262.8,327.6 L263.5,328.3 L264.2,329.0 L264.9,329.7 L265.7,330.3 L266.5,330.9 L267.4,331.4 L268.3,331.9 L269.2,332.3 L270.1,332.7 L271.0,333.0 L272.0,333.3 L273.0,333.6 L273.9,333.8 L274.9,334.0 L275.9,334.2 L276.9,334.3 L277.9,334.4 L278.9,334.5 L279.9,334.6 L280.9,334.7 L281.9,334.7 L282.9,334.8 L283.9,334.8 L284.9,334.8 L285.9,334.8 L286.9,334.9 L288.0,334.9 L289.0,334.9 L290.0,334.9 L291.0,334.9 L291.9,334.9 L292.8,335.0 L293.6,335.0 L294.2,335.0" fill="none" stroke="#262626" stroke-width="1.75" stroke-linejoin="round" stroke-linecap="round"/>
<path d="M88.8,335.2 L89.4,335.1 L90.2,335.1 L91.1,335.1 L92.0,335.0 L93.0,334.9 L94.0,334.9 L95.0,334.8 L96.0,334.7 L97.0,334.6 L98.0,334.5 L99.0,334.3 L100.0,334.2 L101.0,334.0 L102.0,333.9 L103.0,333.7 L104.0,333.5 L105.0,333.3 L105.9,333.1 L106.9,332.8 L107.9,332.5 L108.8,332.2 L109.7,331.8 L110.7,331.4 L111.6,331.0 L112.4,330.5 L113.3,330.0 L114.2,329.5 L115.1,329.0 L115.9,328.5 L116.8,327.9 L117.6,327.4 L118.4,326.8 L119.2,326.1 L119.9,325.5 L120.7,324.8 L121.4,324.1 L122.1,323.4 L122.8,322.7 L123.5,321.9 L124.2,321.2 L124.9,320.5 L125.6,319.8 L126.3,319.1 L127.0,318.3 L127.7,317.6 L128.3,316.8 L129.0,316.1 L129.6,315.3 L130.3,314.5 L130.9,313.8 L131.6,313.0 L132.2,312.2 L132.9,311.5 L133.5,310.7 L134.2,310.0 L134.9,309.2 L135.6,308.5 L136.3,307.7 L137.0,307.0 L137.7,306.3 L138.4,305.6 L139.1,304.9 L139.9,304.2 L140.6,303.6 L141.4,302.9 L142.1,302.3 L142.9,301.6 L143.7,301.0 L144.5,300.4 L145.3,299.8 L146.2,299.3 L147.0,298.8 L147.9,298.2 L148.7,297.7 L149.5,297.1 L150.4,296.5 L151.1,295.9 L151.9,295.3 L152.7,294.6 L153.5,294.0 L154.3,293.4 L155.1,292.8 L155.8,292.1 L156.5,291.4 L157.2,290.7 L157.8,289.9 L158.5,289.1 L159.1,288.3 L159.7,287.5 L160.3,286.7 L160.9,285.9 L161.5,285.1 L162.1,284.3 L162.7,283.5 L163.3,282.7 L163.9,281.9 L164.6,281.1 L165.2,280.3 L165.8,279.5 L166.4,278.7 L167.0,277.9 L167.6,277.2 L168.3,276.4 L168.9,275.6 L169.5,274.8 L170.1,274.0 L170.8,273.2 L171.4,272.4 L172.1,271.7 L172.7,270.9 L173.3,270.1 L174.0,269.4 L174.6,268.6 L175.3,267.8 L175.9,267.1 L176.6,266.3 L177.3,265.6 L178.0,264.8 L178.7,264.1 L179.4,263.4 L180.2,262.8 L180.9,262.1 L181.7,261.5 L182.5,260.9 L183.3,260.3 L184.1,259.7 L184.9,259.0 L185.7,258.4 L186.5,257.8 L187.3,257.2 L188.1,256.6 L188.9,256.0 L189.6,255.3 L190.4,254.6 L191.1,254.0 L191.8,253.3 L192.6,252.5 L193.3,251.8 L194.0,251.1 L194.6,250.4 L195.3,249.6 L196.0,248.9 L196.7,248.1 L197.3,247.4 L197.9,246.6 L198.6,245.8 L199.2,245.0 L199.9,244.3 L200.5,243.5 L201.2,242.7 L201.8,242.0 L202.5,241.2 L203.2,240.5 L203.8,239.7 L204.5,239.0 L205.2,238.2 L205.9,237.5 L206.6,236.8 L207.3,236.1 L208.0,235.4 L208.8,234.8 L209.6,234.1 L210.4,233.5 L211.2,232.9 L212.1,232.4 L212.9,231.9 L213.8,231.5 L214.7,231.1 L215.7,230.9 L216.6,230.8 L217.5,230.9 L218.4,231.2 L219.2,231.6 L220.0,232.2 L220.6,233.0 L221.2,233.7 L221.8,234.6 L222.4,235.4 L223.0,236.1 L223.7,236.9 L224.4,237.5 L225.2,238.1 L226.0,238.6 L226.8,239.2 L227.5,239.8 L228.2,240.4 L228.8,241.2 L229.4,242.0 L229.9,242.8 L230.4,243.7 L230.9,244.5 L231.5,245.4 L232.1,246.2 L232.6,247.0 L233.2,247.9 L233.7,248.7 L234.3,249.6 L234.8,250.4 L235.4,251.2 L235.9,252.1 L236.5,252.9 L237.0,253.8 L237.5,254.7 L238.0,255.5 L238.5,256.4 L239.0,257.3 L239.4,258.2 L239.8,259.1 L240.2,260.0 L240.5,261.0 L240.9,261.9 L241.2,262.9 L241.6,263.8 L242.0,264.7 L242.4,265.7 L242.8,266.6 L243.2,267.5 L243.6,268.4 L244.1,269.3 L244.6,270.1 L245.2,270.9 L245.8,271.7 L246.5,272.3 L247.2,272.9 L248.0,273.5 L248.7,274.1 L249.4,274.8 L250.0,275.6 L250.6,276.4 L251.2,277.2 L251.8,278.0 L252.4,278.8 L253.0,279.6 L253.7,280.3 L254.3,281.1 L255.0,281.8 L255.7,282.5 L256.4,283.3 L257.2,284.0 L257.9,284.6 L258.6,285.3 L259.4,286.0 L260.2,286.6 L261.0,287.2 L261.8,287.8 L262.6,288.4 L263.4,289.0 L264.2,289.6 L265.0,290.2 L265.7,290.9 L266.4,291.6 L267.1,292.4 L267.7,293.2 L268.3,294.0 L268.9,294.8 L269.4,295.6 L269.9,296.5 L270.4,297.4 L270.9,298.2 L271.4,299.1 L271.8,300.0 L272.4,300.8 L273.0,301.4 L273.7,302.0 L274.5,302.3 L275.5,302.6 L276.4,302.8 L277.3,303.1 L278.3,303.4 L279.1,303.8 L280.0,304.3 L280.7,305.0 L281.5,305.6 L282.2,306.3 L282.9,307.1 L283.6,307.8 L284.3,308.5 L284.9,309.3 L285.6,310.0 L286.3,310.7 L287.0,311.5 L287.7,312.2 L288.4,312.9 L289.1,313.6 L289.9,314.2 L290.8,314.7 L291.7,315.1 L292.6,315.4 L293.5,315.7 L294.5,315.9 L295.5,316.1 L296.5,316.3 L297.5,316.5 L298.4,316.8 L299.4,317.1 L300.3,317.5 L301.3,317.8 L302.2,318.2 L303.1,318.6 L304.1,318.9 L305.0,319.3 L305.9,319.8 L306.8,320.2 L307.7,320.7 L308.6,321.2 L309.4,321.7 L310.3,322.2 L311.1,322.7 L312.0,323.3 L312.8,323.8 L313.7,324.3 L314.6,324.8 L315.5,325.2 L316.4,325.6 L317.3,326.0 L318.3,326.4 L319.2,326.7 L320.2,327.0 L321.1,327.2 L322.1,327.5 L323.1,327.7 L324.1,328.0 L325.0,328.2 L326.0,328.4 L327.0,328.6 L328.0,328.8 L329.0,329.0 L330.0,329.2 L331.0,329.3 L332.0,329.5 L333.0,329.6 L334.0,329.8 L335.0,329.9 L336.0,330.0 L337.0,330.2 L337.9,330.3 L338.9,330.4 L339.9,330.5 L340.9,330.6 L341.9,330.7 L342.9,330.8 L343.9,330.9 L345.0,331.0 L346.0,331.1 L347.0,331.2 L348.0,331.2 L349.0,331.3 L350.0,331.4 L351.0,331.4 L352.0,331.5 L353.0,331.6 L354.0,331.6 L355.0,331.7 L356.0,331.8 L356.9,331.8 L357.8,331.9 L358.6,331.9 L359.2,332.0" fill="none" stroke="#262626" stroke-width="1.75" stroke-linejoin="round" stroke-linecap="round"/>
<path d="M43.9,332.1 L44.4,332.5 L45.1,333.0 L46.0,333.3 L47.0,333.5 L48.0,333.5 L49.0,333.5 L50.0,333.5 L51.0,333.4 L52.0,333.4 L53.0,333.4 L54.0,333.3 L55.0,333.3 L56.0,333.1 L57.0,333.0 L57.9,332.7 L58.9,332.4 L59.8,332.0 L60.6,331.5 L61.4,330.8 L62.1,330.1 L62.7,329.3 L63.3,328.5 L63.9,327.7 L64.5,326.9 L65.0,326.1 L65.6,325.2 L66.1,324.4 L66.7,323.5 L67.2,322.7 L67.7,321.8 L68.1,320.9 L68.6,320.0 L69.1,319.1 L69.5,318.2 L69.9,317.3 L70.4,316.4 L70.8,315.5 L71.2,314.6 L71.6,313.7 L72.0,312.7 L72.3,311.8 L72.7,310.9 L73.0,309.9 L73.3,309.0 L73.6,308.0 L73.9,307.0 L74.2,306.1 L74.4,305.1 L74.7,304.1 L74.9,303.2 L75.1,302.2 L75.4,301.2 L75.6,300.2 L75.8,299.2 L76.0,298.3 L76.3,297.3 L76.5,296.3 L76.7,295.3 L76.9,294.3 L77.1,293.4 L77.3,292.4 L77.5,291.4 L77.7,290.4 L77.9,289.4 L78.1,288.4 L78.2,287.5 L78.4,286.5 L78.6,285.5 L78.7,284.5 L78.9,283.5 L79.0,282.5 L79.2,281.5 L79.3,280.5 L79.5,279.5 L79.6,278.5 L79.7,277.5 L79.9,276.5 L80.0,275.5 L80.1,274.5 L80.2,273.6 L80.4,272.6 L80.5,271.6 L80.6,270.6 L80.6,269.6 L80.7,268.6 L80.8,267.6 L80.9,266.6 L81.0,265.6 L81.1,264.6 L81.2,263.6 L81.3,262.6 L81.4,261.6 L81.5,260.6 L81.6,259.6 L81.7,258.6 L81.8,257.6 L81.9,256.6 L82.0,255.6 L82.1,254.6 L82.2,253.6 L82.3,252.6 L82.4,251.6 L82.5,250.6 L82.6,249.6 L82.7,248.6 L82.8,247.6 L82.9,246.6 L83.0,245.6 L83.1,244.6 L83.2,243.6 L83.3,242.6 L83.4,241.6 L83.5,240.6 L83.6,239.6 L83.6,238.6 L83.7,237.6 L83.8,236.6 L83.9,235.6 L84.0,234.6 L84.1,233.6 L84.2,232.6 L84.3,231.6 L84.4,230.6 L84.5,229.6 L84.6,228.6 L84.7,227.6 L84.8,226.6 L84.9,225.6 L85.0,224.6 L85.1,223.6 L85.2,222.6 L85.2,221.6 L85.3,220.6 L85.4,219.6 L85.5,218.6 L85.6,217.6 L85.6,216.6 L85.7,215.6 L85.8,214.6 L85.9,213.6 L85.9,212.6 L86.0,211.6 L86.1,210.6 L86.1,209.6 L86.2,208.6 L86.3,207.6 L86.3,206.6 L86.4,205.6 L86.5,204.6 L86.5,203.6 L86.6,202.6 L86.7,201.6 L86.7,200.6 L86.8,199.6 L86.9,198.6 L87.0,197.6 L87.0,196.6 L87.1,195.6 L87.2,194.6 L87.2,193.6 L87.3,192.6 L87.4,191.6 L87.4,190.6 L87.5,189.6 L87.6,188.6 L87.7,187.6 L87.7,186.6 L87.8,185.6 L87.9,184.6 L87.9,183.6 L88.0,182.6 L88.1,181.6 L88.1,180.6 L88.2,179.6 L88.3,178.6 L88.4,177.6 L88.4,176.6 L88.5,175.6 L88.6,174.6 L88.7,173.6 L88.7,172.6 L88.8,171.6 L88.9,170.6 L89.0,169.6 L89.0,168.6 L89.1,167.6 L89.2,166.6 L89.3,165.6 L89.3,164.6 L89.4,163.6 L89.5,162.6 L89.6,161.6 L89.7,160.6 L89.7,159.6 L89.8,158.6 L89.9,157.6 L90.0,156.6 L90.1,155.6 L90.1,154.6 L90.2,153.6 L90.3,152.6 L90.4,151.6 L90.5,150.6 L90.6,149.6 L90.6,148.6 L90.7,147.6 L90.8,146.6 L90.9,145.6 L91.0,144.6 L91.1,143.6 L91.2,142.6 L91.3,141.6 L91.4,140.6 L91.5,139.6 L91.6,138.6 L91.7,137.6 L91.8,136.6 L91.9,135.6 L92.0,134.6 L92.1,133.6 L92.2,132.6 L92.2,131.6 L92.3,130.6 L92.4,129.6 L92.5,128.6 L92.6,127.6 L92.7,126.6 L92.8,125.6 L92.9,124.6 L93.0,123.6 L93.1,122.6 L93.2,121.6 L93.3,120.6 L93.3,119.6 L93.4,118.6 L93.5,117.6 L93.6,116.6 L93.7,115.6 L93.8,114.6 L93.9,113.6 L94.0,112.6 L94.1,111.6 L94.2,110.6 L94.3,109.6 L94.4,108.6 L94.5,107.6 L94.7,106.6 L94.8,105.6 L94.9,104.6 L95.0,103.6 L95.1,102.6 L95.3,101.7 L95.4,100.7 L95.6,99.7 L95.7,98.7 L95.9,97.7 L96.2,96.7 L96.4,95.8 L96.8,94.8 L97.2,93.9 L97.7,93.1 L98.3,92.4 L99.1,91.9 L100.0,91.6 L101.0,91.6 L101.9,92.0 L102.7,92.5 L103.4,93.2 L104.0,93.9 L104.4,94.8 L104.8,95.7 L105.2,96.7 L105.5,97.6 L105.8,98.6 L106.1,99.5 L106.4,100.5 L106.6,101.5 L106.9,102.4 L107.2,103.4 L107.5,104.4 L107.7,105.3 L108.0,106.3 L108.2,107.3 L108.5,108.2 L108.7,109.2 L109.0,110.2 L109.2,111.2 L109.5,112.1 L109.7,113.1 L109.9,114.1 L110.2,115.1 L110.4,116.0 L110.6,117.0 L110.8,118.0 L111.0,119.0 L111.2,120.0 L111.4,121.0 L111.5,122.0 L111.7,122.9 L111.9,123.9 L112.0,124.9 L112.2,125.9 L112.4,126.9 L112.6,127.9 L112.8,128.9 L113.0,129.9 L113.2,130.8 L113.4,131.8 L113.6,132.8 L113.8,133.8 L114.0,134.8 L114.2,135.8 L114.4,136.7 L114.6,137.7 L114.8,138.7 L115.0,139.7 L115.2,140.7 L115.3,141.7 L115.5,142.6 L115.7,143.6 L115.9,144.6 L116.0,145.6 L116.2,146.6 L116.3,147.6 L116.5,148.6 L116.6,149.6 L116.7,150.6 L116.9,151.6 L117.0,152.6 L117.1,153.6 L117.3,154.6 L117.4,155.5 L117.5,156.5 L117.6,157.5 L117.7,158.5 L117.9,159.5 L118.0,160.5 L118.1,161.5 L118.2,162.5 L118.4,163.5 L118.5,164.5 L118.6,165.5 L118.7,166.5 L118.9,167.5 L119.0,168.5 L119.1,169.5 L119.2,170.5 L119.3,171.5 L119.5,172.5 L119.6,173.5 L119.7,174.5 L119.9,175.5 L120.0,176.4 L120.2,177.4 L120.3,178.4 L120.5,179.4 L120.6,180.4 L120.8,181.4 L120.9,182.4 L121.0,183.4 L121.2,184.4 L121.3,185.4 L121.4,186.4 L121.5,187.4 L121.6,188.4 L121.8,189.4 L121.9,190.4 L122.1,191.4 L122.2,192.3 L122.4,193.3 L122.6,194.3 L122.8,195.3 L123.0,196.3 L123.3,197.3 L123.5,198.2 L123.8,199.2 L124.0,200.2 L124.3,201.1 L124.6,202.1 L124.9,203.0 L125.3,204.0 L125.6,204.9 L126.0,205.8 L126.4,206.8 L126.8,207.7 L127.3,208.6 L127.8,209.4 L128.3,210.3 L128.8,211.1 L129.4,212.0 L130.0,212.8 L130.6,213.6 L131.2,214.4 L131.9,215.1 L132.5,215.9 L133.2,216.6 L133.9,217.4 L134.6,218.1 L135.3,218.8 L136.1,219.4 L136.8,220.1 L137.6,220.7 L138.4,221.3 L139.3,221.8 L140.1,222.4 L141.0,222.9 L141.8,223.5 L142.6,224.1 L143.4,224.7 L144.1,225.4 L144.8,226.1 L145.5,226.8 L146.2,227.5 L146.9,228.2 L147.7,228.9 L148.4,229.6 L149.1,230.3 L149.8,231.0 L150.5,231.8 L151.2,232.5 L151.8,233.3 L152.4,234.1 L153.0,234.9 L153.6,235.7 L154.3,236.5 L154.9,237.2 L155.6,237.9 L156.3,238.7 L157.0,239.3 L157.8,240.0 L158.5,240.7 L159.3,241.3 L160.1,242.0 L160.8,242.6 L161.6,243.2 L162.4,243.9 L163.2,244.5 L164.0,245.1 L164.8,245.7 L165.6,246.3 L166.4,246.9 L167.2,247.6 L167.9,248.2 L168.6,248.9 L169.4,249.6 L170.1,250.3 L170.8,251.0 L171.6,251.6 L172.3,252.3 L173.1,252.9 L173.9,253.6 L174.7,254.2 L175.5,254.8 L176.3,255.4 L177.0,256.1 L177.8,256.7 L178.5,257.4 L179.2,258.1 L180.0,258.8 L180.7,259.5 L181.4,260.2 L182.0,261.0 L182.7,261.7 L183.4,262.4 L184.1,263.2 L184.7,263.9 L185.4,264.7 L186.0,265.5 L186.7,266.2 L187.4,267.0 L188.0,267.7 L188.7,268.4 L189.4,269.2 L190.1,269.9 L190.8,270.6 L191.5,271.3 L192.2,272.0 L193.0,272.7 L193.7,273.4 L194.4,274.2 L195.1,274.9 L195.8,275.6 L196.5,276.3 L197.2,277.0 L197.9,277.7 L198.5,278.5 L199.2,279.3 L199.8,280.1 L200.3,280.9 L200.9,281.7 L201.4,282.6 L202.0,283.4 L202.5,284.2 L203.1,285.1 L203.7,285.9 L204.2,286.7 L204.8,287.5 L205.5,288.3 L206.1,289.1 L206.7,289.9 L207.4,290.6 L208.1,291.3 L208.8,292.1 L209.5,292.8 L210.2,293.5 L211.0,294.2 L211.7,294.9 L212.4,295.6 L213.1,296.3 L213.8,297.0 L214.6,297.7 L215.3,298.4 L216.0,299.1 L216.7,299.8 L217.4,300.5 L218.1,301.2 L218.8,301.9 L219.5,302.6 L220.2,303.3 L220.9,304.0 L221.7,304.7 L222.4,305.5 L223.1,306.2 L223.8,306.9 L224.5,307.6 L225.2,308.3 L225.9,309.0 L226.6,309.7 L227.3,310.4 L228.0,311.2 L228.7,311.9 L229.3,312.7 L229.9,313.5 L230.4,314.3 L231.0,315.1 L231.7,315.9 L232.3,316.7 L233.1,317.4 L233.8,318.0 L234.6,318.6 L235.4,319.2 L236.3,319.7 L237.1,320.2 L238.0,320.7 L238.9,321.1 L239.9,321.5 L240.8,321.9 L241.7,322.3 L242.6,322.7 L243.6,323.1 L244.5,323.5 L245.4,323.9 L246.3,324.3 L247.2,324.7 L248.1,325.1 L249.1,325.5 L250.0,325.9 L250.9,326.3 L251.9,326.6 L252.8,327.0 L253.7,327.3 L254.7,327.7 L255.6,328.0 L256.6,328.3 L257.5,328.7 L258.5,329.0 L259.4,329.3 L260.4,329.6 L261.3,329.9 L262.3,330.2 L263.3,330.5 L264.2,330.8 L265.2,331.1 L266.1,331.3 L267.1,331.6 L268.1,331.8 L269.1,332.0 L270.1,332.2 L271.0,332.4 L272.0,332.6 L273.0,332.8 L274.0,332.9 L275.0,333.1 L276.0,333.2 L277.0,333.4 L278.0,333.5 L279.0,333.6 L280.0,333.7 L281.0,333.7 L282.0,333.8 L283.0,333.9 L284.0,333.9 L285.0,334.0 L286.0,334.0 L287.0,334.1 L288.0,334.1 L288.9,334.1 L289.6,334.2" fill="none" stroke="#1c1c1c" stroke-width="1.8" stroke-linejoin="round" stroke-linecap="round"/>
</svg>
</body></html>
